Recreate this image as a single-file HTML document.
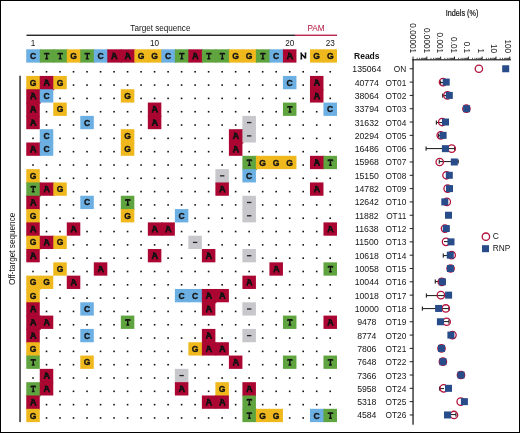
<!DOCTYPE html><html><head><meta charset="utf-8"><style>
html,body{margin:0;padding:0;background:#fff;}
body{width:520px;height:433px;overflow:hidden;position:relative;}
svg{position:absolute;left:0;top:0;display:block;will-change:transform;}
.s{font-family:"Liberation Sans",sans-serif;}
.m{font-family:"Liberation Sans",sans-serif;font-weight:bold;stroke:#111;stroke-width:0.3px;}
</style></head><body>
<svg width="520" height="433" viewBox="0 0 520 433">
<rect x="0" y="0" width="520" height="433" fill="#fff"/>
<text class="s" x="160.4" y="30.5" font-size="8.15" text-anchor="middle" fill="#141414">Target sequence</text>
<text class="s" transform="translate(316,30.6) scale(0.92,1)" font-size="8.9" text-anchor="middle" fill="#b0123c">PAM</text>
<rect x="26.5" y="34.6" width="268.5" height="1.3" fill="#141414"/>
<rect x="295" y="34.6" width="42" height="1.3" fill="#b3153f"/>
<text class="s" x="33.01" y="45.8" font-size="8.2" text-anchor="middle" fill="#141414">1</text>
<text class="s" x="154.59" y="45.8" font-size="8.2" text-anchor="middle" fill="#141414">10</text>
<text class="s" x="289.69" y="45.8" font-size="8.2" text-anchor="middle" fill="#141414">20</text>
<text class="s" x="330.22" y="45.8" font-size="8.2" text-anchor="middle" fill="#141414">23</text>
<rect x="26.25" y="49.30" width="14.51" height="13.31" fill="#6cafe2"/>
<text class="m" x="33.01" y="59.01" font-size="8.6" text-anchor="middle" fill="#111">C</text>
<rect x="39.76" y="49.30" width="14.51" height="13.31" fill="#5fa43f"/>
<path transform="translate(46.72,58.81)" d="M-2.05,-5.4H2.05M-2.05,-5.9V-4.2M2.05,-5.9V-4.2M0,-5.4V0M-1.45,-0.15H1.45" stroke="#111" stroke-width="1.5" fill="none"/>
<rect x="53.27" y="49.30" width="14.51" height="13.31" fill="#5fa43f"/>
<path transform="translate(60.23,58.81)" d="M-2.05,-5.4H2.05M-2.05,-5.9V-4.2M2.05,-5.9V-4.2M0,-5.4V0M-1.45,-0.15H1.45" stroke="#111" stroke-width="1.5" fill="none"/>
<rect x="66.78" y="49.30" width="14.51" height="13.31" fill="#efb81d"/>
<text class="m" x="73.53" y="59.01" font-size="8.6" text-anchor="middle" fill="#111">G</text>
<rect x="80.29" y="49.30" width="14.51" height="13.31" fill="#5fa43f"/>
<path transform="translate(87.24,58.81)" d="M-2.05,-5.4H2.05M-2.05,-5.9V-4.2M2.05,-5.9V-4.2M0,-5.4V0M-1.45,-0.15H1.45" stroke="#111" stroke-width="1.5" fill="none"/>
<rect x="93.80" y="49.30" width="14.51" height="13.31" fill="#6cafe2"/>
<text class="m" x="100.55" y="59.01" font-size="8.6" text-anchor="middle" fill="#111">C</text>
<rect x="107.31" y="49.30" width="14.51" height="13.31" fill="#ab0632"/>
<path transform="translate(114.27,58.81)" d="M-1.9,-5.45H0.3M-0.5,-5.45L-2.3,-0.2M0.4,-5.45L2.4,-0.2M-1.5,-2.2H1.6M-3.1,-0.15H-1.3M1.4,-0.15H3.2" stroke="#111" stroke-width="1.55" fill="none"/>
<rect x="120.82" y="49.30" width="14.51" height="13.31" fill="#ab0632"/>
<path transform="translate(127.77,58.81)" d="M-1.9,-5.45H0.3M-0.5,-5.45L-2.3,-0.2M0.4,-5.45L2.4,-0.2M-1.5,-2.2H1.6M-3.1,-0.15H-1.3M1.4,-0.15H3.2" stroke="#111" stroke-width="1.55" fill="none"/>
<rect x="134.33" y="49.30" width="14.51" height="13.31" fill="#efb81d"/>
<text class="m" x="141.08" y="59.01" font-size="8.6" text-anchor="middle" fill="#111">G</text>
<rect x="147.84" y="49.30" width="14.51" height="13.31" fill="#efb81d"/>
<text class="m" x="154.59" y="59.01" font-size="8.6" text-anchor="middle" fill="#111">G</text>
<rect x="161.35" y="49.30" width="14.51" height="13.31" fill="#6cafe2"/>
<text class="m" x="168.10" y="59.01" font-size="8.6" text-anchor="middle" fill="#111">C</text>
<rect x="174.86" y="49.30" width="14.51" height="13.31" fill="#5fa43f"/>
<path transform="translate(181.81,58.81)" d="M-2.05,-5.4H2.05M-2.05,-5.9V-4.2M2.05,-5.9V-4.2M0,-5.4V0M-1.45,-0.15H1.45" stroke="#111" stroke-width="1.5" fill="none"/>
<rect x="188.37" y="49.30" width="14.51" height="13.31" fill="#ab0632"/>
<path transform="translate(195.32,58.81)" d="M-1.9,-5.45H0.3M-0.5,-5.45L-2.3,-0.2M0.4,-5.45L2.4,-0.2M-1.5,-2.2H1.6M-3.1,-0.15H-1.3M1.4,-0.15H3.2" stroke="#111" stroke-width="1.55" fill="none"/>
<rect x="201.88" y="49.30" width="14.51" height="13.31" fill="#5fa43f"/>
<path transform="translate(208.83,58.81)" d="M-2.05,-5.4H2.05M-2.05,-5.9V-4.2M2.05,-5.9V-4.2M0,-5.4V0M-1.45,-0.15H1.45" stroke="#111" stroke-width="1.5" fill="none"/>
<rect x="215.39" y="49.30" width="14.51" height="13.31" fill="#5fa43f"/>
<path transform="translate(222.34,58.81)" d="M-2.05,-5.4H2.05M-2.05,-5.9V-4.2M2.05,-5.9V-4.2M0,-5.4V0M-1.45,-0.15H1.45" stroke="#111" stroke-width="1.5" fill="none"/>
<rect x="228.90" y="49.30" width="14.51" height="13.31" fill="#efb81d"/>
<text class="m" x="235.66" y="59.01" font-size="8.6" text-anchor="middle" fill="#111">G</text>
<rect x="242.41" y="49.30" width="14.51" height="13.31" fill="#efb81d"/>
<text class="m" x="249.16" y="59.01" font-size="8.6" text-anchor="middle" fill="#111">G</text>
<rect x="255.92" y="49.30" width="14.51" height="13.31" fill="#5fa43f"/>
<path transform="translate(262.88,58.81)" d="M-2.05,-5.4H2.05M-2.05,-5.9V-4.2M2.05,-5.9V-4.2M0,-5.4V0M-1.45,-0.15H1.45" stroke="#111" stroke-width="1.5" fill="none"/>
<rect x="269.43" y="49.30" width="14.51" height="13.31" fill="#6cafe2"/>
<text class="m" x="276.19" y="59.01" font-size="8.6" text-anchor="middle" fill="#111">C</text>
<rect x="282.94" y="49.30" width="13.51" height="13.31" fill="#ab0632"/>
<path transform="translate(289.89,58.81)" d="M-1.9,-5.45H0.3M-0.5,-5.45L-2.3,-0.2M0.4,-5.45L2.4,-0.2M-1.5,-2.2H1.6M-3.1,-0.15H-1.3M1.4,-0.15H3.2" stroke="#111" stroke-width="1.55" fill="none"/>
<path transform="translate(303.40,58.81)" d="M-2.1,-0.15V-5.45M-2.3,-5.2L2.1,-0.4M2.1,-0.2V-5.45M-3.0,-5.45H-1.4M1.3,-5.45H3.0M-3.0,-0.15H-1.2" stroke="#111" stroke-width="1.5" fill="none"/>
<rect x="309.96" y="49.30" width="14.51" height="13.31" fill="#efb81d"/>
<text class="m" x="316.71" y="59.01" font-size="8.6" text-anchor="middle" fill="#111">G</text>
<rect x="323.47" y="49.30" width="13.51" height="13.31" fill="#efb81d"/>
<text class="m" x="330.22" y="59.01" font-size="8.6" text-anchor="middle" fill="#111">G</text>
<rect x="26.25" y="75.93" width="14.51" height="14.31" fill="#efb81d"/>
<rect x="39.76" y="75.93" width="14.51" height="14.31" fill="#ab0632"/>
<rect x="53.27" y="75.93" width="13.51" height="13.31" fill="#efb81d"/>
<rect x="282.94" y="75.93" width="13.51" height="13.31" fill="#6cafe2"/>
<rect x="309.96" y="75.93" width="13.51" height="14.31" fill="#ab0632"/>
<rect x="26.25" y="89.25" width="14.51" height="14.31" fill="#ab0632"/>
<rect x="39.76" y="89.25" width="13.51" height="13.31" fill="#6cafe2"/>
<rect x="120.82" y="89.25" width="13.51" height="13.31" fill="#efb81d"/>
<rect x="309.96" y="89.25" width="13.51" height="13.31" fill="#ab0632"/>
<rect x="26.25" y="102.56" width="13.51" height="14.31" fill="#ab0632"/>
<rect x="53.27" y="102.56" width="13.51" height="13.31" fill="#efb81d"/>
<rect x="147.84" y="102.56" width="13.51" height="14.31" fill="#ab0632"/>
<rect x="282.94" y="102.56" width="13.51" height="13.31" fill="#5fa43f"/>
<rect x="323.47" y="102.56" width="13.51" height="13.31" fill="#6cafe2"/>
<rect x="26.25" y="115.88" width="13.51" height="13.31" fill="#ab0632"/>
<rect x="80.29" y="115.88" width="13.51" height="13.31" fill="#6cafe2"/>
<rect x="147.84" y="115.88" width="13.51" height="13.31" fill="#ab0632"/>
<rect x="242.41" y="115.88" width="13.51" height="14.31" fill="#c8c8cc"/>
<rect x="39.76" y="129.19" width="13.51" height="14.31" fill="#6cafe2"/>
<rect x="120.82" y="129.19" width="13.51" height="14.31" fill="#efb81d"/>
<rect x="228.90" y="129.19" width="14.51" height="14.31" fill="#ab0632"/>
<rect x="242.41" y="129.19" width="13.51" height="13.31" fill="#c8c8cc"/>
<rect x="26.25" y="142.50" width="14.51" height="13.31" fill="#ab0632"/>
<rect x="39.76" y="142.50" width="13.51" height="13.31" fill="#6cafe2"/>
<rect x="120.82" y="142.50" width="13.51" height="13.31" fill="#efb81d"/>
<rect x="228.90" y="142.50" width="13.51" height="13.31" fill="#ab0632"/>
<rect x="242.41" y="155.82" width="14.51" height="14.31" fill="#5fa43f"/>
<rect x="255.92" y="155.82" width="14.51" height="13.31" fill="#efb81d"/>
<rect x="269.43" y="155.82" width="14.51" height="13.31" fill="#efb81d"/>
<rect x="282.94" y="155.82" width="13.51" height="13.31" fill="#efb81d"/>
<rect x="309.96" y="155.82" width="14.51" height="13.31" fill="#ab0632"/>
<rect x="323.47" y="155.82" width="13.51" height="13.31" fill="#5fa43f"/>
<rect x="26.25" y="169.13" width="13.51" height="14.31" fill="#efb81d"/>
<rect x="215.39" y="169.13" width="13.51" height="14.31" fill="#c8c8cc"/>
<rect x="242.41" y="169.13" width="13.51" height="13.31" fill="#6cafe2"/>
<rect x="26.25" y="182.45" width="14.51" height="14.31" fill="#5fa43f"/>
<rect x="39.76" y="182.45" width="14.51" height="13.31" fill="#ab0632"/>
<rect x="53.27" y="182.45" width="13.51" height="13.31" fill="#efb81d"/>
<rect x="215.39" y="182.45" width="13.51" height="13.31" fill="#ab0632"/>
<rect x="309.96" y="182.45" width="13.51" height="13.31" fill="#ab0632"/>
<rect x="26.25" y="195.76" width="13.51" height="14.31" fill="#ab0632"/>
<rect x="80.29" y="195.76" width="13.51" height="13.31" fill="#6cafe2"/>
<rect x="120.82" y="195.76" width="13.51" height="14.31" fill="#5fa43f"/>
<rect x="242.41" y="195.76" width="13.51" height="14.31" fill="#c8c8cc"/>
<rect x="26.25" y="209.08" width="13.51" height="14.31" fill="#efb81d"/>
<rect x="120.82" y="209.08" width="13.51" height="13.31" fill="#efb81d"/>
<rect x="174.86" y="209.08" width="13.51" height="13.31" fill="#6cafe2"/>
<rect x="242.41" y="209.08" width="13.51" height="13.31" fill="#c8c8cc"/>
<rect x="26.25" y="222.39" width="13.51" height="14.31" fill="#ab0632"/>
<rect x="66.78" y="222.39" width="13.51" height="13.31" fill="#ab0632"/>
<rect x="147.84" y="222.39" width="14.51" height="13.31" fill="#ab0632"/>
<rect x="161.35" y="222.39" width="13.51" height="13.31" fill="#ab0632"/>
<rect x="323.47" y="222.39" width="13.51" height="13.31" fill="#ab0632"/>
<rect x="26.25" y="235.71" width="14.51" height="14.31" fill="#efb81d"/>
<rect x="39.76" y="235.71" width="14.51" height="13.31" fill="#ab0632"/>
<rect x="53.27" y="235.71" width="13.51" height="13.31" fill="#efb81d"/>
<rect x="188.37" y="235.71" width="13.51" height="13.31" fill="#c8c8cc"/>
<rect x="26.25" y="249.02" width="13.51" height="13.31" fill="#ab0632"/>
<rect x="147.84" y="249.02" width="13.51" height="13.31" fill="#ab0632"/>
<rect x="201.88" y="249.02" width="13.51" height="13.31" fill="#ab0632"/>
<rect x="242.41" y="249.02" width="13.51" height="13.31" fill="#c8c8cc"/>
<rect x="53.27" y="262.34" width="13.51" height="13.31" fill="#efb81d"/>
<rect x="93.80" y="262.34" width="13.51" height="13.31" fill="#ab0632"/>
<rect x="269.43" y="262.34" width="13.51" height="13.31" fill="#ab0632"/>
<rect x="323.47" y="262.34" width="13.51" height="13.31" fill="#5fa43f"/>
<rect x="26.25" y="275.65" width="14.51" height="14.31" fill="#efb81d"/>
<rect x="39.76" y="275.65" width="13.51" height="13.31" fill="#efb81d"/>
<rect x="66.78" y="275.65" width="13.51" height="13.31" fill="#ab0632"/>
<rect x="242.41" y="275.65" width="13.51" height="13.31" fill="#ab0632"/>
<rect x="26.25" y="288.97" width="13.51" height="14.31" fill="#efb81d"/>
<rect x="174.86" y="288.97" width="14.51" height="13.31" fill="#6cafe2"/>
<rect x="188.37" y="288.97" width="14.51" height="13.31" fill="#6cafe2"/>
<rect x="201.88" y="288.97" width="14.51" height="14.31" fill="#ab0632"/>
<rect x="215.39" y="288.97" width="13.51" height="13.31" fill="#ab0632"/>
<rect x="26.25" y="302.28" width="13.51" height="14.31" fill="#ab0632"/>
<rect x="80.29" y="302.28" width="13.51" height="13.31" fill="#6cafe2"/>
<rect x="201.88" y="302.28" width="13.51" height="13.31" fill="#ab0632"/>
<rect x="242.41" y="302.28" width="13.51" height="13.31" fill="#c8c8cc"/>
<rect x="26.25" y="315.60" width="14.51" height="14.31" fill="#ab0632"/>
<rect x="39.76" y="315.60" width="13.51" height="13.31" fill="#ab0632"/>
<rect x="120.82" y="315.60" width="13.51" height="13.31" fill="#5fa43f"/>
<rect x="282.94" y="315.60" width="13.51" height="13.31" fill="#5fa43f"/>
<rect x="323.47" y="315.60" width="13.51" height="13.31" fill="#ab0632"/>
<rect x="26.25" y="328.92" width="13.51" height="14.31" fill="#ab0632"/>
<rect x="80.29" y="328.92" width="13.51" height="13.31" fill="#6cafe2"/>
<rect x="201.88" y="328.92" width="13.51" height="14.31" fill="#ab0632"/>
<rect x="242.41" y="328.92" width="13.51" height="13.31" fill="#c8c8cc"/>
<rect x="26.25" y="342.23" width="13.51" height="14.31" fill="#efb81d"/>
<rect x="188.37" y="342.23" width="14.51" height="13.31" fill="#efb81d"/>
<rect x="201.88" y="342.23" width="14.51" height="13.31" fill="#ab0632"/>
<rect x="215.39" y="342.23" width="13.51" height="13.31" fill="#ab0632"/>
<rect x="26.25" y="355.55" width="13.51" height="13.31" fill="#5fa43f"/>
<rect x="80.29" y="355.55" width="13.51" height="13.31" fill="#efb81d"/>
<rect x="228.90" y="355.55" width="13.51" height="13.31" fill="#ab0632"/>
<rect x="282.94" y="355.55" width="13.51" height="13.31" fill="#5fa43f"/>
<rect x="323.47" y="355.55" width="13.51" height="13.31" fill="#5fa43f"/>
<rect x="39.76" y="368.86" width="13.51" height="14.31" fill="#ab0632"/>
<rect x="174.86" y="368.86" width="13.51" height="14.31" fill="#c8c8cc"/>
<rect x="26.25" y="382.18" width="14.51" height="14.31" fill="#5fa43f"/>
<rect x="39.76" y="382.18" width="13.51" height="13.31" fill="#ab0632"/>
<rect x="174.86" y="382.18" width="13.51" height="13.31" fill="#ab0632"/>
<rect x="215.39" y="382.18" width="13.51" height="14.31" fill="#efb81d"/>
<rect x="242.41" y="382.18" width="13.51" height="14.31" fill="#ab0632"/>
<rect x="26.25" y="395.49" width="13.51" height="14.31" fill="#ab0632"/>
<rect x="201.88" y="395.49" width="14.51" height="13.31" fill="#ab0632"/>
<rect x="215.39" y="395.49" width="13.51" height="13.31" fill="#ab0632"/>
<rect x="242.41" y="395.49" width="13.51" height="14.31" fill="#5fa43f"/>
<rect x="26.25" y="408.81" width="13.51" height="13.31" fill="#efb81d"/>
<rect x="242.41" y="408.81" width="14.51" height="13.31" fill="#5fa43f"/>
<rect x="255.92" y="408.81" width="14.51" height="13.31" fill="#efb81d"/>
<rect x="269.43" y="408.81" width="13.51" height="13.31" fill="#efb81d"/>
<rect x="309.96" y="408.81" width="14.51" height="13.31" fill="#6cafe2"/>
<rect x="323.47" y="408.81" width="13.51" height="13.31" fill="#5fa43f"/>
<text class="m" x="33.01" y="85.64" font-size="8.6" text-anchor="middle" fill="#111">G</text>
<path transform="translate(46.72,85.44)" d="M-1.9,-5.45H0.3M-0.5,-5.45L-2.3,-0.2M0.4,-5.45L2.4,-0.2M-1.5,-2.2H1.6M-3.1,-0.15H-1.3M1.4,-0.15H3.2" stroke="#111" stroke-width="1.55" fill="none"/>
<text class="m" x="60.02" y="85.64" font-size="8.6" text-anchor="middle" fill="#111">G</text>
<text class="m" x="289.69" y="85.64" font-size="8.6" text-anchor="middle" fill="#111">C</text>
<path transform="translate(316.91,85.44)" d="M-1.9,-5.45H0.3M-0.5,-5.45L-2.3,-0.2M0.4,-5.45L2.4,-0.2M-1.5,-2.2H1.6M-3.1,-0.15H-1.3M1.4,-0.15H3.2" stroke="#111" stroke-width="1.55" fill="none"/>
<path transform="translate(33.21,98.75)" d="M-1.9,-5.45H0.3M-0.5,-5.45L-2.3,-0.2M0.4,-5.45L2.4,-0.2M-1.5,-2.2H1.6M-3.1,-0.15H-1.3M1.4,-0.15H3.2" stroke="#111" stroke-width="1.55" fill="none"/>
<text class="m" x="46.52" y="98.95" font-size="8.6" text-anchor="middle" fill="#111">C</text>
<text class="m" x="127.57" y="98.95" font-size="8.6" text-anchor="middle" fill="#111">G</text>
<path transform="translate(316.91,98.75)" d="M-1.9,-5.45H0.3M-0.5,-5.45L-2.3,-0.2M0.4,-5.45L2.4,-0.2M-1.5,-2.2H1.6M-3.1,-0.15H-1.3M1.4,-0.15H3.2" stroke="#111" stroke-width="1.55" fill="none"/>
<path transform="translate(33.21,112.07)" d="M-1.9,-5.45H0.3M-0.5,-5.45L-2.3,-0.2M0.4,-5.45L2.4,-0.2M-1.5,-2.2H1.6M-3.1,-0.15H-1.3M1.4,-0.15H3.2" stroke="#111" stroke-width="1.55" fill="none"/>
<text class="m" x="60.02" y="112.27" font-size="8.6" text-anchor="middle" fill="#111">G</text>
<path transform="translate(154.79,112.07)" d="M-1.9,-5.45H0.3M-0.5,-5.45L-2.3,-0.2M0.4,-5.45L2.4,-0.2M-1.5,-2.2H1.6M-3.1,-0.15H-1.3M1.4,-0.15H3.2" stroke="#111" stroke-width="1.55" fill="none"/>
<path transform="translate(289.89,112.07)" d="M-2.05,-5.4H2.05M-2.05,-5.9V-4.2M2.05,-5.9V-4.2M0,-5.4V0M-1.45,-0.15H1.45" stroke="#111" stroke-width="1.5" fill="none"/>
<text class="m" x="330.22" y="112.27" font-size="8.6" text-anchor="middle" fill="#111">C</text>
<path transform="translate(33.21,125.38)" d="M-1.9,-5.45H0.3M-0.5,-5.45L-2.3,-0.2M0.4,-5.45L2.4,-0.2M-1.5,-2.2H1.6M-3.1,-0.15H-1.3M1.4,-0.15H3.2" stroke="#111" stroke-width="1.55" fill="none"/>
<text class="m" x="87.04" y="125.58" font-size="8.6" text-anchor="middle" fill="#111">C</text>
<path transform="translate(154.79,125.38)" d="M-1.9,-5.45H0.3M-0.5,-5.45L-2.3,-0.2M0.4,-5.45L2.4,-0.2M-1.5,-2.2H1.6M-3.1,-0.15H-1.3M1.4,-0.15H3.2" stroke="#111" stroke-width="1.55" fill="none"/>
<rect x="246.97" y="121.93" width="4.4" height="1.3" fill="#222"/>
<text class="m" x="46.52" y="138.90" font-size="8.6" text-anchor="middle" fill="#111">C</text>
<text class="m" x="127.57" y="138.90" font-size="8.6" text-anchor="middle" fill="#111">G</text>
<path transform="translate(235.85,138.70)" d="M-1.9,-5.45H0.3M-0.5,-5.45L-2.3,-0.2M0.4,-5.45L2.4,-0.2M-1.5,-2.2H1.6M-3.1,-0.15H-1.3M1.4,-0.15H3.2" stroke="#111" stroke-width="1.55" fill="none"/>
<rect x="246.97" y="135.25" width="4.4" height="1.3" fill="#222"/>
<path transform="translate(33.21,152.01)" d="M-1.9,-5.45H0.3M-0.5,-5.45L-2.3,-0.2M0.4,-5.45L2.4,-0.2M-1.5,-2.2H1.6M-3.1,-0.15H-1.3M1.4,-0.15H3.2" stroke="#111" stroke-width="1.55" fill="none"/>
<text class="m" x="46.52" y="152.21" font-size="8.6" text-anchor="middle" fill="#111">C</text>
<text class="m" x="127.57" y="152.21" font-size="8.6" text-anchor="middle" fill="#111">G</text>
<path transform="translate(235.85,152.01)" d="M-1.9,-5.45H0.3M-0.5,-5.45L-2.3,-0.2M0.4,-5.45L2.4,-0.2M-1.5,-2.2H1.6M-3.1,-0.15H-1.3M1.4,-0.15H3.2" stroke="#111" stroke-width="1.55" fill="none"/>
<path transform="translate(249.36,165.33)" d="M-2.05,-5.4H2.05M-2.05,-5.9V-4.2M2.05,-5.9V-4.2M0,-5.4V0M-1.45,-0.15H1.45" stroke="#111" stroke-width="1.5" fill="none"/>
<text class="m" x="262.68" y="165.53" font-size="8.6" text-anchor="middle" fill="#111">G</text>
<text class="m" x="276.19" y="165.53" font-size="8.6" text-anchor="middle" fill="#111">G</text>
<text class="m" x="289.69" y="165.53" font-size="8.6" text-anchor="middle" fill="#111">G</text>
<path transform="translate(316.91,165.33)" d="M-1.9,-5.45H0.3M-0.5,-5.45L-2.3,-0.2M0.4,-5.45L2.4,-0.2M-1.5,-2.2H1.6M-3.1,-0.15H-1.3M1.4,-0.15H3.2" stroke="#111" stroke-width="1.55" fill="none"/>
<path transform="translate(330.42,165.33)" d="M-2.05,-5.4H2.05M-2.05,-5.9V-4.2M2.05,-5.9V-4.2M0,-5.4V0M-1.45,-0.15H1.45" stroke="#111" stroke-width="1.5" fill="none"/>
<text class="m" x="33.01" y="178.84" font-size="8.6" text-anchor="middle" fill="#111">G</text>
<rect x="219.94" y="175.19" width="4.4" height="1.3" fill="#222"/>
<text class="m" x="249.16" y="178.84" font-size="8.6" text-anchor="middle" fill="#111">C</text>
<path transform="translate(33.21,191.96)" d="M-2.05,-5.4H2.05M-2.05,-5.9V-4.2M2.05,-5.9V-4.2M0,-5.4V0M-1.45,-0.15H1.45" stroke="#111" stroke-width="1.5" fill="none"/>
<path transform="translate(46.72,191.96)" d="M-1.9,-5.45H0.3M-0.5,-5.45L-2.3,-0.2M0.4,-5.45L2.4,-0.2M-1.5,-2.2H1.6M-3.1,-0.15H-1.3M1.4,-0.15H3.2" stroke="#111" stroke-width="1.55" fill="none"/>
<text class="m" x="60.02" y="192.16" font-size="8.6" text-anchor="middle" fill="#111">G</text>
<path transform="translate(222.34,191.96)" d="M-1.9,-5.45H0.3M-0.5,-5.45L-2.3,-0.2M0.4,-5.45L2.4,-0.2M-1.5,-2.2H1.6M-3.1,-0.15H-1.3M1.4,-0.15H3.2" stroke="#111" stroke-width="1.55" fill="none"/>
<path transform="translate(316.91,191.96)" d="M-1.9,-5.45H0.3M-0.5,-5.45L-2.3,-0.2M0.4,-5.45L2.4,-0.2M-1.5,-2.2H1.6M-3.1,-0.15H-1.3M1.4,-0.15H3.2" stroke="#111" stroke-width="1.55" fill="none"/>
<path transform="translate(33.21,205.27)" d="M-1.9,-5.45H0.3M-0.5,-5.45L-2.3,-0.2M0.4,-5.45L2.4,-0.2M-1.5,-2.2H1.6M-3.1,-0.15H-1.3M1.4,-0.15H3.2" stroke="#111" stroke-width="1.55" fill="none"/>
<text class="m" x="87.04" y="205.47" font-size="8.6" text-anchor="middle" fill="#111">C</text>
<path transform="translate(127.77,205.27)" d="M-2.05,-5.4H2.05M-2.05,-5.9V-4.2M2.05,-5.9V-4.2M0,-5.4V0M-1.45,-0.15H1.45" stroke="#111" stroke-width="1.5" fill="none"/>
<rect x="246.97" y="201.82" width="4.4" height="1.3" fill="#222"/>
<text class="m" x="33.01" y="218.79" font-size="8.6" text-anchor="middle" fill="#111">G</text>
<text class="m" x="127.57" y="218.79" font-size="8.6" text-anchor="middle" fill="#111">G</text>
<text class="m" x="181.61" y="218.79" font-size="8.6" text-anchor="middle" fill="#111">C</text>
<rect x="246.97" y="215.14" width="4.4" height="1.3" fill="#222"/>
<path transform="translate(33.21,231.90)" d="M-1.9,-5.45H0.3M-0.5,-5.45L-2.3,-0.2M0.4,-5.45L2.4,-0.2M-1.5,-2.2H1.6M-3.1,-0.15H-1.3M1.4,-0.15H3.2" stroke="#111" stroke-width="1.55" fill="none"/>
<path transform="translate(73.73,231.90)" d="M-1.9,-5.45H0.3M-0.5,-5.45L-2.3,-0.2M0.4,-5.45L2.4,-0.2M-1.5,-2.2H1.6M-3.1,-0.15H-1.3M1.4,-0.15H3.2" stroke="#111" stroke-width="1.55" fill="none"/>
<path transform="translate(154.79,231.90)" d="M-1.9,-5.45H0.3M-0.5,-5.45L-2.3,-0.2M0.4,-5.45L2.4,-0.2M-1.5,-2.2H1.6M-3.1,-0.15H-1.3M1.4,-0.15H3.2" stroke="#111" stroke-width="1.55" fill="none"/>
<path transform="translate(168.30,231.90)" d="M-1.9,-5.45H0.3M-0.5,-5.45L-2.3,-0.2M0.4,-5.45L2.4,-0.2M-1.5,-2.2H1.6M-3.1,-0.15H-1.3M1.4,-0.15H3.2" stroke="#111" stroke-width="1.55" fill="none"/>
<path transform="translate(330.42,231.90)" d="M-1.9,-5.45H0.3M-0.5,-5.45L-2.3,-0.2M0.4,-5.45L2.4,-0.2M-1.5,-2.2H1.6M-3.1,-0.15H-1.3M1.4,-0.15H3.2" stroke="#111" stroke-width="1.55" fill="none"/>
<text class="m" x="33.01" y="245.42" font-size="8.6" text-anchor="middle" fill="#111">G</text>
<path transform="translate(46.72,245.22)" d="M-1.9,-5.45H0.3M-0.5,-5.45L-2.3,-0.2M0.4,-5.45L2.4,-0.2M-1.5,-2.2H1.6M-3.1,-0.15H-1.3M1.4,-0.15H3.2" stroke="#111" stroke-width="1.55" fill="none"/>
<text class="m" x="60.02" y="245.42" font-size="8.6" text-anchor="middle" fill="#111">G</text>
<rect x="192.93" y="241.77" width="4.4" height="1.3" fill="#222"/>
<path transform="translate(33.21,258.53)" d="M-1.9,-5.45H0.3M-0.5,-5.45L-2.3,-0.2M0.4,-5.45L2.4,-0.2M-1.5,-2.2H1.6M-3.1,-0.15H-1.3M1.4,-0.15H3.2" stroke="#111" stroke-width="1.55" fill="none"/>
<path transform="translate(154.79,258.53)" d="M-1.9,-5.45H0.3M-0.5,-5.45L-2.3,-0.2M0.4,-5.45L2.4,-0.2M-1.5,-2.2H1.6M-3.1,-0.15H-1.3M1.4,-0.15H3.2" stroke="#111" stroke-width="1.55" fill="none"/>
<path transform="translate(208.83,258.53)" d="M-1.9,-5.45H0.3M-0.5,-5.45L-2.3,-0.2M0.4,-5.45L2.4,-0.2M-1.5,-2.2H1.6M-3.1,-0.15H-1.3M1.4,-0.15H3.2" stroke="#111" stroke-width="1.55" fill="none"/>
<rect x="246.97" y="255.08" width="4.4" height="1.3" fill="#222"/>
<text class="m" x="60.02" y="272.05" font-size="8.6" text-anchor="middle" fill="#111">G</text>
<path transform="translate(100.75,271.85)" d="M-1.9,-5.45H0.3M-0.5,-5.45L-2.3,-0.2M0.4,-5.45L2.4,-0.2M-1.5,-2.2H1.6M-3.1,-0.15H-1.3M1.4,-0.15H3.2" stroke="#111" stroke-width="1.55" fill="none"/>
<path transform="translate(276.38,271.85)" d="M-1.9,-5.45H0.3M-0.5,-5.45L-2.3,-0.2M0.4,-5.45L2.4,-0.2M-1.5,-2.2H1.6M-3.1,-0.15H-1.3M1.4,-0.15H3.2" stroke="#111" stroke-width="1.55" fill="none"/>
<path transform="translate(330.42,271.85)" d="M-2.05,-5.4H2.05M-2.05,-5.9V-4.2M2.05,-5.9V-4.2M0,-5.4V0M-1.45,-0.15H1.45" stroke="#111" stroke-width="1.5" fill="none"/>
<text class="m" x="33.01" y="285.36" font-size="8.6" text-anchor="middle" fill="#111">G</text>
<text class="m" x="46.52" y="285.36" font-size="8.6" text-anchor="middle" fill="#111">G</text>
<path transform="translate(73.73,285.16)" d="M-1.9,-5.45H0.3M-0.5,-5.45L-2.3,-0.2M0.4,-5.45L2.4,-0.2M-1.5,-2.2H1.6M-3.1,-0.15H-1.3M1.4,-0.15H3.2" stroke="#111" stroke-width="1.55" fill="none"/>
<path transform="translate(249.36,285.16)" d="M-1.9,-5.45H0.3M-0.5,-5.45L-2.3,-0.2M0.4,-5.45L2.4,-0.2M-1.5,-2.2H1.6M-3.1,-0.15H-1.3M1.4,-0.15H3.2" stroke="#111" stroke-width="1.55" fill="none"/>
<text class="m" x="33.01" y="298.68" font-size="8.6" text-anchor="middle" fill="#111">G</text>
<text class="m" x="181.61" y="298.68" font-size="8.6" text-anchor="middle" fill="#111">C</text>
<text class="m" x="195.12" y="298.68" font-size="8.6" text-anchor="middle" fill="#111">C</text>
<path transform="translate(208.83,298.48)" d="M-1.9,-5.45H0.3M-0.5,-5.45L-2.3,-0.2M0.4,-5.45L2.4,-0.2M-1.5,-2.2H1.6M-3.1,-0.15H-1.3M1.4,-0.15H3.2" stroke="#111" stroke-width="1.55" fill="none"/>
<path transform="translate(222.34,298.48)" d="M-1.9,-5.45H0.3M-0.5,-5.45L-2.3,-0.2M0.4,-5.45L2.4,-0.2M-1.5,-2.2H1.6M-3.1,-0.15H-1.3M1.4,-0.15H3.2" stroke="#111" stroke-width="1.55" fill="none"/>
<path transform="translate(33.21,311.79)" d="M-1.9,-5.45H0.3M-0.5,-5.45L-2.3,-0.2M0.4,-5.45L2.4,-0.2M-1.5,-2.2H1.6M-3.1,-0.15H-1.3M1.4,-0.15H3.2" stroke="#111" stroke-width="1.55" fill="none"/>
<text class="m" x="87.04" y="311.99" font-size="8.6" text-anchor="middle" fill="#111">C</text>
<path transform="translate(208.83,311.79)" d="M-1.9,-5.45H0.3M-0.5,-5.45L-2.3,-0.2M0.4,-5.45L2.4,-0.2M-1.5,-2.2H1.6M-3.1,-0.15H-1.3M1.4,-0.15H3.2" stroke="#111" stroke-width="1.55" fill="none"/>
<rect x="246.97" y="308.34" width="4.4" height="1.3" fill="#222"/>
<path transform="translate(33.21,325.11)" d="M-1.9,-5.45H0.3M-0.5,-5.45L-2.3,-0.2M0.4,-5.45L2.4,-0.2M-1.5,-2.2H1.6M-3.1,-0.15H-1.3M1.4,-0.15H3.2" stroke="#111" stroke-width="1.55" fill="none"/>
<path transform="translate(46.72,325.11)" d="M-1.9,-5.45H0.3M-0.5,-5.45L-2.3,-0.2M0.4,-5.45L2.4,-0.2M-1.5,-2.2H1.6M-3.1,-0.15H-1.3M1.4,-0.15H3.2" stroke="#111" stroke-width="1.55" fill="none"/>
<path transform="translate(127.77,325.11)" d="M-2.05,-5.4H2.05M-2.05,-5.9V-4.2M2.05,-5.9V-4.2M0,-5.4V0M-1.45,-0.15H1.45" stroke="#111" stroke-width="1.5" fill="none"/>
<path transform="translate(289.89,325.11)" d="M-2.05,-5.4H2.05M-2.05,-5.9V-4.2M2.05,-5.9V-4.2M0,-5.4V0M-1.45,-0.15H1.45" stroke="#111" stroke-width="1.5" fill="none"/>
<path transform="translate(330.42,325.11)" d="M-1.9,-5.45H0.3M-0.5,-5.45L-2.3,-0.2M0.4,-5.45L2.4,-0.2M-1.5,-2.2H1.6M-3.1,-0.15H-1.3M1.4,-0.15H3.2" stroke="#111" stroke-width="1.55" fill="none"/>
<path transform="translate(33.21,338.42)" d="M-1.9,-5.45H0.3M-0.5,-5.45L-2.3,-0.2M0.4,-5.45L2.4,-0.2M-1.5,-2.2H1.6M-3.1,-0.15H-1.3M1.4,-0.15H3.2" stroke="#111" stroke-width="1.55" fill="none"/>
<text class="m" x="87.04" y="338.62" font-size="8.6" text-anchor="middle" fill="#111">C</text>
<path transform="translate(208.83,338.42)" d="M-1.9,-5.45H0.3M-0.5,-5.45L-2.3,-0.2M0.4,-5.45L2.4,-0.2M-1.5,-2.2H1.6M-3.1,-0.15H-1.3M1.4,-0.15H3.2" stroke="#111" stroke-width="1.55" fill="none"/>
<rect x="246.97" y="334.97" width="4.4" height="1.3" fill="#222"/>
<text class="m" x="33.01" y="351.94" font-size="8.6" text-anchor="middle" fill="#111">G</text>
<text class="m" x="195.12" y="351.94" font-size="8.6" text-anchor="middle" fill="#111">G</text>
<path transform="translate(208.83,351.74)" d="M-1.9,-5.45H0.3M-0.5,-5.45L-2.3,-0.2M0.4,-5.45L2.4,-0.2M-1.5,-2.2H1.6M-3.1,-0.15H-1.3M1.4,-0.15H3.2" stroke="#111" stroke-width="1.55" fill="none"/>
<path transform="translate(222.34,351.74)" d="M-1.9,-5.45H0.3M-0.5,-5.45L-2.3,-0.2M0.4,-5.45L2.4,-0.2M-1.5,-2.2H1.6M-3.1,-0.15H-1.3M1.4,-0.15H3.2" stroke="#111" stroke-width="1.55" fill="none"/>
<path transform="translate(33.21,365.05)" d="M-2.05,-5.4H2.05M-2.05,-5.9V-4.2M2.05,-5.9V-4.2M0,-5.4V0M-1.45,-0.15H1.45" stroke="#111" stroke-width="1.5" fill="none"/>
<text class="m" x="87.04" y="365.25" font-size="8.6" text-anchor="middle" fill="#111">G</text>
<path transform="translate(235.85,365.05)" d="M-1.9,-5.45H0.3M-0.5,-5.45L-2.3,-0.2M0.4,-5.45L2.4,-0.2M-1.5,-2.2H1.6M-3.1,-0.15H-1.3M1.4,-0.15H3.2" stroke="#111" stroke-width="1.55" fill="none"/>
<path transform="translate(289.89,365.05)" d="M-2.05,-5.4H2.05M-2.05,-5.9V-4.2M2.05,-5.9V-4.2M0,-5.4V0M-1.45,-0.15H1.45" stroke="#111" stroke-width="1.5" fill="none"/>
<path transform="translate(330.42,365.05)" d="M-2.05,-5.4H2.05M-2.05,-5.9V-4.2M2.05,-5.9V-4.2M0,-5.4V0M-1.45,-0.15H1.45" stroke="#111" stroke-width="1.5" fill="none"/>
<path transform="translate(46.72,378.37)" d="M-1.9,-5.45H0.3M-0.5,-5.45L-2.3,-0.2M0.4,-5.45L2.4,-0.2M-1.5,-2.2H1.6M-3.1,-0.15H-1.3M1.4,-0.15H3.2" stroke="#111" stroke-width="1.55" fill="none"/>
<rect x="179.41" y="374.92" width="4.4" height="1.3" fill="#222"/>
<path transform="translate(33.21,391.68)" d="M-2.05,-5.4H2.05M-2.05,-5.9V-4.2M2.05,-5.9V-4.2M0,-5.4V0M-1.45,-0.15H1.45" stroke="#111" stroke-width="1.5" fill="none"/>
<path transform="translate(46.72,391.68)" d="M-1.9,-5.45H0.3M-0.5,-5.45L-2.3,-0.2M0.4,-5.45L2.4,-0.2M-1.5,-2.2H1.6M-3.1,-0.15H-1.3M1.4,-0.15H3.2" stroke="#111" stroke-width="1.55" fill="none"/>
<path transform="translate(181.81,391.68)" d="M-1.9,-5.45H0.3M-0.5,-5.45L-2.3,-0.2M0.4,-5.45L2.4,-0.2M-1.5,-2.2H1.6M-3.1,-0.15H-1.3M1.4,-0.15H3.2" stroke="#111" stroke-width="1.55" fill="none"/>
<text class="m" x="222.14" y="391.88" font-size="8.6" text-anchor="middle" fill="#111">G</text>
<path transform="translate(249.36,391.68)" d="M-1.9,-5.45H0.3M-0.5,-5.45L-2.3,-0.2M0.4,-5.45L2.4,-0.2M-1.5,-2.2H1.6M-3.1,-0.15H-1.3M1.4,-0.15H3.2" stroke="#111" stroke-width="1.55" fill="none"/>
<path transform="translate(33.21,405.00)" d="M-1.9,-5.45H0.3M-0.5,-5.45L-2.3,-0.2M0.4,-5.45L2.4,-0.2M-1.5,-2.2H1.6M-3.1,-0.15H-1.3M1.4,-0.15H3.2" stroke="#111" stroke-width="1.55" fill="none"/>
<path transform="translate(208.83,405.00)" d="M-1.9,-5.45H0.3M-0.5,-5.45L-2.3,-0.2M0.4,-5.45L2.4,-0.2M-1.5,-2.2H1.6M-3.1,-0.15H-1.3M1.4,-0.15H3.2" stroke="#111" stroke-width="1.55" fill="none"/>
<path transform="translate(222.34,405.00)" d="M-1.9,-5.45H0.3M-0.5,-5.45L-2.3,-0.2M0.4,-5.45L2.4,-0.2M-1.5,-2.2H1.6M-3.1,-0.15H-1.3M1.4,-0.15H3.2" stroke="#111" stroke-width="1.55" fill="none"/>
<path transform="translate(249.36,405.00)" d="M-2.05,-5.4H2.05M-2.05,-5.9V-4.2M2.05,-5.9V-4.2M0,-5.4V0M-1.45,-0.15H1.45" stroke="#111" stroke-width="1.5" fill="none"/>
<text class="m" x="33.01" y="418.51" font-size="8.6" text-anchor="middle" fill="#111">G</text>
<path transform="translate(249.36,418.31)" d="M-2.05,-5.4H2.05M-2.05,-5.9V-4.2M2.05,-5.9V-4.2M0,-5.4V0M-1.45,-0.15H1.45" stroke="#111" stroke-width="1.5" fill="none"/>
<text class="m" x="262.68" y="418.51" font-size="8.6" text-anchor="middle" fill="#111">G</text>
<text class="m" x="276.19" y="418.51" font-size="8.6" text-anchor="middle" fill="#111">G</text>
<text class="m" x="316.71" y="418.51" font-size="8.6" text-anchor="middle" fill="#111">C</text>
<path transform="translate(330.42,418.31)" d="M-2.05,-5.4H2.05M-2.05,-5.9V-4.2M2.05,-5.9V-4.2M0,-5.4V0M-1.45,-0.15H1.45" stroke="#111" stroke-width="1.5" fill="none"/>
<rect x="32.21" y="70.97" width="1.6" height="1.6" fill="#111"/>
<rect x="45.72" y="70.97" width="1.6" height="1.6" fill="#111"/>
<rect x="59.23" y="70.97" width="1.6" height="1.6" fill="#111"/>
<rect x="72.73" y="70.97" width="1.6" height="1.6" fill="#111"/>
<rect x="86.24" y="70.97" width="1.6" height="1.6" fill="#111"/>
<rect x="99.75" y="70.97" width="1.6" height="1.6" fill="#111"/>
<rect x="113.27" y="70.97" width="1.6" height="1.6" fill="#111"/>
<rect x="126.77" y="70.97" width="1.6" height="1.6" fill="#111"/>
<rect x="140.28" y="70.97" width="1.6" height="1.6" fill="#111"/>
<rect x="153.79" y="70.97" width="1.6" height="1.6" fill="#111"/>
<rect x="167.30" y="70.97" width="1.6" height="1.6" fill="#111"/>
<rect x="180.81" y="70.97" width="1.6" height="1.6" fill="#111"/>
<rect x="194.32" y="70.97" width="1.6" height="1.6" fill="#111"/>
<rect x="207.83" y="70.97" width="1.6" height="1.6" fill="#111"/>
<rect x="221.34" y="70.97" width="1.6" height="1.6" fill="#111"/>
<rect x="234.85" y="70.97" width="1.6" height="1.6" fill="#111"/>
<rect x="248.36" y="70.97" width="1.6" height="1.6" fill="#111"/>
<rect x="261.88" y="70.97" width="1.6" height="1.6" fill="#111"/>
<rect x="275.38" y="70.97" width="1.6" height="1.6" fill="#111"/>
<rect x="288.89" y="70.97" width="1.6" height="1.6" fill="#111"/>
<rect x="302.40" y="70.97" width="1.6" height="1.6" fill="#111"/>
<rect x="315.91" y="70.97" width="1.6" height="1.6" fill="#111"/>
<rect x="329.42" y="70.97" width="1.6" height="1.6" fill="#111"/>
<rect x="72.73" y="84.29" width="1.6" height="1.6" fill="#111"/>
<rect x="86.24" y="84.29" width="1.6" height="1.6" fill="#111"/>
<rect x="99.75" y="84.29" width="1.6" height="1.6" fill="#111"/>
<rect x="113.27" y="84.29" width="1.6" height="1.6" fill="#111"/>
<rect x="126.77" y="84.29" width="1.6" height="1.6" fill="#111"/>
<rect x="140.28" y="84.29" width="1.6" height="1.6" fill="#111"/>
<rect x="153.79" y="84.29" width="1.6" height="1.6" fill="#111"/>
<rect x="167.30" y="84.29" width="1.6" height="1.6" fill="#111"/>
<rect x="180.81" y="84.29" width="1.6" height="1.6" fill="#111"/>
<rect x="194.32" y="84.29" width="1.6" height="1.6" fill="#111"/>
<rect x="207.83" y="84.29" width="1.6" height="1.6" fill="#111"/>
<rect x="221.34" y="84.29" width="1.6" height="1.6" fill="#111"/>
<rect x="234.85" y="84.29" width="1.6" height="1.6" fill="#111"/>
<rect x="248.36" y="84.29" width="1.6" height="1.6" fill="#111"/>
<rect x="261.88" y="84.29" width="1.6" height="1.6" fill="#111"/>
<rect x="275.38" y="84.29" width="1.6" height="1.6" fill="#111"/>
<rect x="302.40" y="84.29" width="1.6" height="1.6" fill="#111"/>
<rect x="329.42" y="84.29" width="1.6" height="1.6" fill="#111"/>
<rect x="59.23" y="97.60" width="1.6" height="1.6" fill="#111"/>
<rect x="72.73" y="97.60" width="1.6" height="1.6" fill="#111"/>
<rect x="86.24" y="97.60" width="1.6" height="1.6" fill="#111"/>
<rect x="99.75" y="97.60" width="1.6" height="1.6" fill="#111"/>
<rect x="113.27" y="97.60" width="1.6" height="1.6" fill="#111"/>
<rect x="140.28" y="97.60" width="1.6" height="1.6" fill="#111"/>
<rect x="153.79" y="97.60" width="1.6" height="1.6" fill="#111"/>
<rect x="167.30" y="97.60" width="1.6" height="1.6" fill="#111"/>
<rect x="180.81" y="97.60" width="1.6" height="1.6" fill="#111"/>
<rect x="194.32" y="97.60" width="1.6" height="1.6" fill="#111"/>
<rect x="207.83" y="97.60" width="1.6" height="1.6" fill="#111"/>
<rect x="221.34" y="97.60" width="1.6" height="1.6" fill="#111"/>
<rect x="234.85" y="97.60" width="1.6" height="1.6" fill="#111"/>
<rect x="248.36" y="97.60" width="1.6" height="1.6" fill="#111"/>
<rect x="261.88" y="97.60" width="1.6" height="1.6" fill="#111"/>
<rect x="275.38" y="97.60" width="1.6" height="1.6" fill="#111"/>
<rect x="288.89" y="97.60" width="1.6" height="1.6" fill="#111"/>
<rect x="302.40" y="97.60" width="1.6" height="1.6" fill="#111"/>
<rect x="329.42" y="97.60" width="1.6" height="1.6" fill="#111"/>
<rect x="45.72" y="110.92" width="1.6" height="1.6" fill="#111"/>
<rect x="72.73" y="110.92" width="1.6" height="1.6" fill="#111"/>
<rect x="86.24" y="110.92" width="1.6" height="1.6" fill="#111"/>
<rect x="99.75" y="110.92" width="1.6" height="1.6" fill="#111"/>
<rect x="113.27" y="110.92" width="1.6" height="1.6" fill="#111"/>
<rect x="126.77" y="110.92" width="1.6" height="1.6" fill="#111"/>
<rect x="140.28" y="110.92" width="1.6" height="1.6" fill="#111"/>
<rect x="167.30" y="110.92" width="1.6" height="1.6" fill="#111"/>
<rect x="180.81" y="110.92" width="1.6" height="1.6" fill="#111"/>
<rect x="194.32" y="110.92" width="1.6" height="1.6" fill="#111"/>
<rect x="207.83" y="110.92" width="1.6" height="1.6" fill="#111"/>
<rect x="221.34" y="110.92" width="1.6" height="1.6" fill="#111"/>
<rect x="234.85" y="110.92" width="1.6" height="1.6" fill="#111"/>
<rect x="248.36" y="110.92" width="1.6" height="1.6" fill="#111"/>
<rect x="261.88" y="110.92" width="1.6" height="1.6" fill="#111"/>
<rect x="275.38" y="110.92" width="1.6" height="1.6" fill="#111"/>
<rect x="302.40" y="110.92" width="1.6" height="1.6" fill="#111"/>
<rect x="315.91" y="110.92" width="1.6" height="1.6" fill="#111"/>
<rect x="45.72" y="124.23" width="1.6" height="1.6" fill="#111"/>
<rect x="59.23" y="124.23" width="1.6" height="1.6" fill="#111"/>
<rect x="72.73" y="124.23" width="1.6" height="1.6" fill="#111"/>
<rect x="99.75" y="124.23" width="1.6" height="1.6" fill="#111"/>
<rect x="113.27" y="124.23" width="1.6" height="1.6" fill="#111"/>
<rect x="126.77" y="124.23" width="1.6" height="1.6" fill="#111"/>
<rect x="140.28" y="124.23" width="1.6" height="1.6" fill="#111"/>
<rect x="167.30" y="124.23" width="1.6" height="1.6" fill="#111"/>
<rect x="180.81" y="124.23" width="1.6" height="1.6" fill="#111"/>
<rect x="194.32" y="124.23" width="1.6" height="1.6" fill="#111"/>
<rect x="207.83" y="124.23" width="1.6" height="1.6" fill="#111"/>
<rect x="221.34" y="124.23" width="1.6" height="1.6" fill="#111"/>
<rect x="234.85" y="124.23" width="1.6" height="1.6" fill="#111"/>
<rect x="261.88" y="124.23" width="1.6" height="1.6" fill="#111"/>
<rect x="275.38" y="124.23" width="1.6" height="1.6" fill="#111"/>
<rect x="288.89" y="124.23" width="1.6" height="1.6" fill="#111"/>
<rect x="302.40" y="124.23" width="1.6" height="1.6" fill="#111"/>
<rect x="315.91" y="124.23" width="1.6" height="1.6" fill="#111"/>
<rect x="329.42" y="124.23" width="1.6" height="1.6" fill="#111"/>
<rect x="32.21" y="137.55" width="1.6" height="1.6" fill="#111"/>
<rect x="59.23" y="137.55" width="1.6" height="1.6" fill="#111"/>
<rect x="72.73" y="137.55" width="1.6" height="1.6" fill="#111"/>
<rect x="86.24" y="137.55" width="1.6" height="1.6" fill="#111"/>
<rect x="99.75" y="137.55" width="1.6" height="1.6" fill="#111"/>
<rect x="113.27" y="137.55" width="1.6" height="1.6" fill="#111"/>
<rect x="140.28" y="137.55" width="1.6" height="1.6" fill="#111"/>
<rect x="153.79" y="137.55" width="1.6" height="1.6" fill="#111"/>
<rect x="167.30" y="137.55" width="1.6" height="1.6" fill="#111"/>
<rect x="180.81" y="137.55" width="1.6" height="1.6" fill="#111"/>
<rect x="194.32" y="137.55" width="1.6" height="1.6" fill="#111"/>
<rect x="207.83" y="137.55" width="1.6" height="1.6" fill="#111"/>
<rect x="221.34" y="137.55" width="1.6" height="1.6" fill="#111"/>
<rect x="261.88" y="137.55" width="1.6" height="1.6" fill="#111"/>
<rect x="275.38" y="137.55" width="1.6" height="1.6" fill="#111"/>
<rect x="288.89" y="137.55" width="1.6" height="1.6" fill="#111"/>
<rect x="302.40" y="137.55" width="1.6" height="1.6" fill="#111"/>
<rect x="315.91" y="137.55" width="1.6" height="1.6" fill="#111"/>
<rect x="329.42" y="137.55" width="1.6" height="1.6" fill="#111"/>
<rect x="59.23" y="150.86" width="1.6" height="1.6" fill="#111"/>
<rect x="72.73" y="150.86" width="1.6" height="1.6" fill="#111"/>
<rect x="86.24" y="150.86" width="1.6" height="1.6" fill="#111"/>
<rect x="99.75" y="150.86" width="1.6" height="1.6" fill="#111"/>
<rect x="113.27" y="150.86" width="1.6" height="1.6" fill="#111"/>
<rect x="140.28" y="150.86" width="1.6" height="1.6" fill="#111"/>
<rect x="153.79" y="150.86" width="1.6" height="1.6" fill="#111"/>
<rect x="167.30" y="150.86" width="1.6" height="1.6" fill="#111"/>
<rect x="180.81" y="150.86" width="1.6" height="1.6" fill="#111"/>
<rect x="194.32" y="150.86" width="1.6" height="1.6" fill="#111"/>
<rect x="207.83" y="150.86" width="1.6" height="1.6" fill="#111"/>
<rect x="221.34" y="150.86" width="1.6" height="1.6" fill="#111"/>
<rect x="248.36" y="150.86" width="1.6" height="1.6" fill="#111"/>
<rect x="261.88" y="150.86" width="1.6" height="1.6" fill="#111"/>
<rect x="275.38" y="150.86" width="1.6" height="1.6" fill="#111"/>
<rect x="288.89" y="150.86" width="1.6" height="1.6" fill="#111"/>
<rect x="302.40" y="150.86" width="1.6" height="1.6" fill="#111"/>
<rect x="315.91" y="150.86" width="1.6" height="1.6" fill="#111"/>
<rect x="329.42" y="150.86" width="1.6" height="1.6" fill="#111"/>
<rect x="32.21" y="164.18" width="1.6" height="1.6" fill="#111"/>
<rect x="45.72" y="164.18" width="1.6" height="1.6" fill="#111"/>
<rect x="59.23" y="164.18" width="1.6" height="1.6" fill="#111"/>
<rect x="72.73" y="164.18" width="1.6" height="1.6" fill="#111"/>
<rect x="86.24" y="164.18" width="1.6" height="1.6" fill="#111"/>
<rect x="99.75" y="164.18" width="1.6" height="1.6" fill="#111"/>
<rect x="113.27" y="164.18" width="1.6" height="1.6" fill="#111"/>
<rect x="126.77" y="164.18" width="1.6" height="1.6" fill="#111"/>
<rect x="140.28" y="164.18" width="1.6" height="1.6" fill="#111"/>
<rect x="153.79" y="164.18" width="1.6" height="1.6" fill="#111"/>
<rect x="167.30" y="164.18" width="1.6" height="1.6" fill="#111"/>
<rect x="180.81" y="164.18" width="1.6" height="1.6" fill="#111"/>
<rect x="194.32" y="164.18" width="1.6" height="1.6" fill="#111"/>
<rect x="207.83" y="164.18" width="1.6" height="1.6" fill="#111"/>
<rect x="221.34" y="164.18" width="1.6" height="1.6" fill="#111"/>
<rect x="234.85" y="164.18" width="1.6" height="1.6" fill="#111"/>
<rect x="302.40" y="164.18" width="1.6" height="1.6" fill="#111"/>
<rect x="45.72" y="177.49" width="1.6" height="1.6" fill="#111"/>
<rect x="59.23" y="177.49" width="1.6" height="1.6" fill="#111"/>
<rect x="72.73" y="177.49" width="1.6" height="1.6" fill="#111"/>
<rect x="86.24" y="177.49" width="1.6" height="1.6" fill="#111"/>
<rect x="99.75" y="177.49" width="1.6" height="1.6" fill="#111"/>
<rect x="113.27" y="177.49" width="1.6" height="1.6" fill="#111"/>
<rect x="126.77" y="177.49" width="1.6" height="1.6" fill="#111"/>
<rect x="140.28" y="177.49" width="1.6" height="1.6" fill="#111"/>
<rect x="153.79" y="177.49" width="1.6" height="1.6" fill="#111"/>
<rect x="167.30" y="177.49" width="1.6" height="1.6" fill="#111"/>
<rect x="180.81" y="177.49" width="1.6" height="1.6" fill="#111"/>
<rect x="194.32" y="177.49" width="1.6" height="1.6" fill="#111"/>
<rect x="207.83" y="177.49" width="1.6" height="1.6" fill="#111"/>
<rect x="234.85" y="177.49" width="1.6" height="1.6" fill="#111"/>
<rect x="261.88" y="177.49" width="1.6" height="1.6" fill="#111"/>
<rect x="275.38" y="177.49" width="1.6" height="1.6" fill="#111"/>
<rect x="288.89" y="177.49" width="1.6" height="1.6" fill="#111"/>
<rect x="302.40" y="177.49" width="1.6" height="1.6" fill="#111"/>
<rect x="315.91" y="177.49" width="1.6" height="1.6" fill="#111"/>
<rect x="329.42" y="177.49" width="1.6" height="1.6" fill="#111"/>
<rect x="72.73" y="190.81" width="1.6" height="1.6" fill="#111"/>
<rect x="86.24" y="190.81" width="1.6" height="1.6" fill="#111"/>
<rect x="99.75" y="190.81" width="1.6" height="1.6" fill="#111"/>
<rect x="113.27" y="190.81" width="1.6" height="1.6" fill="#111"/>
<rect x="126.77" y="190.81" width="1.6" height="1.6" fill="#111"/>
<rect x="140.28" y="190.81" width="1.6" height="1.6" fill="#111"/>
<rect x="153.79" y="190.81" width="1.6" height="1.6" fill="#111"/>
<rect x="167.30" y="190.81" width="1.6" height="1.6" fill="#111"/>
<rect x="180.81" y="190.81" width="1.6" height="1.6" fill="#111"/>
<rect x="194.32" y="190.81" width="1.6" height="1.6" fill="#111"/>
<rect x="207.83" y="190.81" width="1.6" height="1.6" fill="#111"/>
<rect x="234.85" y="190.81" width="1.6" height="1.6" fill="#111"/>
<rect x="248.36" y="190.81" width="1.6" height="1.6" fill="#111"/>
<rect x="261.88" y="190.81" width="1.6" height="1.6" fill="#111"/>
<rect x="275.38" y="190.81" width="1.6" height="1.6" fill="#111"/>
<rect x="288.89" y="190.81" width="1.6" height="1.6" fill="#111"/>
<rect x="302.40" y="190.81" width="1.6" height="1.6" fill="#111"/>
<rect x="329.42" y="190.81" width="1.6" height="1.6" fill="#111"/>
<rect x="45.72" y="204.12" width="1.6" height="1.6" fill="#111"/>
<rect x="59.23" y="204.12" width="1.6" height="1.6" fill="#111"/>
<rect x="72.73" y="204.12" width="1.6" height="1.6" fill="#111"/>
<rect x="99.75" y="204.12" width="1.6" height="1.6" fill="#111"/>
<rect x="113.27" y="204.12" width="1.6" height="1.6" fill="#111"/>
<rect x="140.28" y="204.12" width="1.6" height="1.6" fill="#111"/>
<rect x="153.79" y="204.12" width="1.6" height="1.6" fill="#111"/>
<rect x="167.30" y="204.12" width="1.6" height="1.6" fill="#111"/>
<rect x="180.81" y="204.12" width="1.6" height="1.6" fill="#111"/>
<rect x="194.32" y="204.12" width="1.6" height="1.6" fill="#111"/>
<rect x="207.83" y="204.12" width="1.6" height="1.6" fill="#111"/>
<rect x="221.34" y="204.12" width="1.6" height="1.6" fill="#111"/>
<rect x="234.85" y="204.12" width="1.6" height="1.6" fill="#111"/>
<rect x="261.88" y="204.12" width="1.6" height="1.6" fill="#111"/>
<rect x="275.38" y="204.12" width="1.6" height="1.6" fill="#111"/>
<rect x="288.89" y="204.12" width="1.6" height="1.6" fill="#111"/>
<rect x="302.40" y="204.12" width="1.6" height="1.6" fill="#111"/>
<rect x="315.91" y="204.12" width="1.6" height="1.6" fill="#111"/>
<rect x="329.42" y="204.12" width="1.6" height="1.6" fill="#111"/>
<rect x="45.72" y="217.44" width="1.6" height="1.6" fill="#111"/>
<rect x="59.23" y="217.44" width="1.6" height="1.6" fill="#111"/>
<rect x="72.73" y="217.44" width="1.6" height="1.6" fill="#111"/>
<rect x="86.24" y="217.44" width="1.6" height="1.6" fill="#111"/>
<rect x="99.75" y="217.44" width="1.6" height="1.6" fill="#111"/>
<rect x="113.27" y="217.44" width="1.6" height="1.6" fill="#111"/>
<rect x="140.28" y="217.44" width="1.6" height="1.6" fill="#111"/>
<rect x="153.79" y="217.44" width="1.6" height="1.6" fill="#111"/>
<rect x="167.30" y="217.44" width="1.6" height="1.6" fill="#111"/>
<rect x="194.32" y="217.44" width="1.6" height="1.6" fill="#111"/>
<rect x="207.83" y="217.44" width="1.6" height="1.6" fill="#111"/>
<rect x="221.34" y="217.44" width="1.6" height="1.6" fill="#111"/>
<rect x="234.85" y="217.44" width="1.6" height="1.6" fill="#111"/>
<rect x="261.88" y="217.44" width="1.6" height="1.6" fill="#111"/>
<rect x="275.38" y="217.44" width="1.6" height="1.6" fill="#111"/>
<rect x="288.89" y="217.44" width="1.6" height="1.6" fill="#111"/>
<rect x="302.40" y="217.44" width="1.6" height="1.6" fill="#111"/>
<rect x="315.91" y="217.44" width="1.6" height="1.6" fill="#111"/>
<rect x="329.42" y="217.44" width="1.6" height="1.6" fill="#111"/>
<rect x="45.72" y="230.75" width="1.6" height="1.6" fill="#111"/>
<rect x="59.23" y="230.75" width="1.6" height="1.6" fill="#111"/>
<rect x="86.24" y="230.75" width="1.6" height="1.6" fill="#111"/>
<rect x="99.75" y="230.75" width="1.6" height="1.6" fill="#111"/>
<rect x="113.27" y="230.75" width="1.6" height="1.6" fill="#111"/>
<rect x="126.77" y="230.75" width="1.6" height="1.6" fill="#111"/>
<rect x="140.28" y="230.75" width="1.6" height="1.6" fill="#111"/>
<rect x="180.81" y="230.75" width="1.6" height="1.6" fill="#111"/>
<rect x="194.32" y="230.75" width="1.6" height="1.6" fill="#111"/>
<rect x="207.83" y="230.75" width="1.6" height="1.6" fill="#111"/>
<rect x="221.34" y="230.75" width="1.6" height="1.6" fill="#111"/>
<rect x="234.85" y="230.75" width="1.6" height="1.6" fill="#111"/>
<rect x="248.36" y="230.75" width="1.6" height="1.6" fill="#111"/>
<rect x="261.88" y="230.75" width="1.6" height="1.6" fill="#111"/>
<rect x="275.38" y="230.75" width="1.6" height="1.6" fill="#111"/>
<rect x="288.89" y="230.75" width="1.6" height="1.6" fill="#111"/>
<rect x="302.40" y="230.75" width="1.6" height="1.6" fill="#111"/>
<rect x="315.91" y="230.75" width="1.6" height="1.6" fill="#111"/>
<rect x="72.73" y="244.07" width="1.6" height="1.6" fill="#111"/>
<rect x="86.24" y="244.07" width="1.6" height="1.6" fill="#111"/>
<rect x="99.75" y="244.07" width="1.6" height="1.6" fill="#111"/>
<rect x="113.27" y="244.07" width="1.6" height="1.6" fill="#111"/>
<rect x="126.77" y="244.07" width="1.6" height="1.6" fill="#111"/>
<rect x="140.28" y="244.07" width="1.6" height="1.6" fill="#111"/>
<rect x="153.79" y="244.07" width="1.6" height="1.6" fill="#111"/>
<rect x="167.30" y="244.07" width="1.6" height="1.6" fill="#111"/>
<rect x="180.81" y="244.07" width="1.6" height="1.6" fill="#111"/>
<rect x="207.83" y="244.07" width="1.6" height="1.6" fill="#111"/>
<rect x="221.34" y="244.07" width="1.6" height="1.6" fill="#111"/>
<rect x="234.85" y="244.07" width="1.6" height="1.6" fill="#111"/>
<rect x="248.36" y="244.07" width="1.6" height="1.6" fill="#111"/>
<rect x="261.88" y="244.07" width="1.6" height="1.6" fill="#111"/>
<rect x="275.38" y="244.07" width="1.6" height="1.6" fill="#111"/>
<rect x="288.89" y="244.07" width="1.6" height="1.6" fill="#111"/>
<rect x="302.40" y="244.07" width="1.6" height="1.6" fill="#111"/>
<rect x="315.91" y="244.07" width="1.6" height="1.6" fill="#111"/>
<rect x="329.42" y="244.07" width="1.6" height="1.6" fill="#111"/>
<rect x="45.72" y="257.38" width="1.6" height="1.6" fill="#111"/>
<rect x="59.23" y="257.38" width="1.6" height="1.6" fill="#111"/>
<rect x="72.73" y="257.38" width="1.6" height="1.6" fill="#111"/>
<rect x="86.24" y="257.38" width="1.6" height="1.6" fill="#111"/>
<rect x="99.75" y="257.38" width="1.6" height="1.6" fill="#111"/>
<rect x="113.27" y="257.38" width="1.6" height="1.6" fill="#111"/>
<rect x="126.77" y="257.38" width="1.6" height="1.6" fill="#111"/>
<rect x="140.28" y="257.38" width="1.6" height="1.6" fill="#111"/>
<rect x="167.30" y="257.38" width="1.6" height="1.6" fill="#111"/>
<rect x="180.81" y="257.38" width="1.6" height="1.6" fill="#111"/>
<rect x="194.32" y="257.38" width="1.6" height="1.6" fill="#111"/>
<rect x="221.34" y="257.38" width="1.6" height="1.6" fill="#111"/>
<rect x="234.85" y="257.38" width="1.6" height="1.6" fill="#111"/>
<rect x="261.88" y="257.38" width="1.6" height="1.6" fill="#111"/>
<rect x="275.38" y="257.38" width="1.6" height="1.6" fill="#111"/>
<rect x="288.89" y="257.38" width="1.6" height="1.6" fill="#111"/>
<rect x="302.40" y="257.38" width="1.6" height="1.6" fill="#111"/>
<rect x="315.91" y="257.38" width="1.6" height="1.6" fill="#111"/>
<rect x="329.42" y="257.38" width="1.6" height="1.6" fill="#111"/>
<rect x="32.21" y="270.70" width="1.6" height="1.6" fill="#111"/>
<rect x="45.72" y="270.70" width="1.6" height="1.6" fill="#111"/>
<rect x="72.73" y="270.70" width="1.6" height="1.6" fill="#111"/>
<rect x="86.24" y="270.70" width="1.6" height="1.6" fill="#111"/>
<rect x="113.27" y="270.70" width="1.6" height="1.6" fill="#111"/>
<rect x="126.77" y="270.70" width="1.6" height="1.6" fill="#111"/>
<rect x="140.28" y="270.70" width="1.6" height="1.6" fill="#111"/>
<rect x="153.79" y="270.70" width="1.6" height="1.6" fill="#111"/>
<rect x="167.30" y="270.70" width="1.6" height="1.6" fill="#111"/>
<rect x="180.81" y="270.70" width="1.6" height="1.6" fill="#111"/>
<rect x="194.32" y="270.70" width="1.6" height="1.6" fill="#111"/>
<rect x="207.83" y="270.70" width="1.6" height="1.6" fill="#111"/>
<rect x="221.34" y="270.70" width="1.6" height="1.6" fill="#111"/>
<rect x="234.85" y="270.70" width="1.6" height="1.6" fill="#111"/>
<rect x="248.36" y="270.70" width="1.6" height="1.6" fill="#111"/>
<rect x="261.88" y="270.70" width="1.6" height="1.6" fill="#111"/>
<rect x="288.89" y="270.70" width="1.6" height="1.6" fill="#111"/>
<rect x="302.40" y="270.70" width="1.6" height="1.6" fill="#111"/>
<rect x="315.91" y="270.70" width="1.6" height="1.6" fill="#111"/>
<rect x="59.23" y="284.01" width="1.6" height="1.6" fill="#111"/>
<rect x="86.24" y="284.01" width="1.6" height="1.6" fill="#111"/>
<rect x="99.75" y="284.01" width="1.6" height="1.6" fill="#111"/>
<rect x="113.27" y="284.01" width="1.6" height="1.6" fill="#111"/>
<rect x="126.77" y="284.01" width="1.6" height="1.6" fill="#111"/>
<rect x="140.28" y="284.01" width="1.6" height="1.6" fill="#111"/>
<rect x="153.79" y="284.01" width="1.6" height="1.6" fill="#111"/>
<rect x="167.30" y="284.01" width="1.6" height="1.6" fill="#111"/>
<rect x="180.81" y="284.01" width="1.6" height="1.6" fill="#111"/>
<rect x="194.32" y="284.01" width="1.6" height="1.6" fill="#111"/>
<rect x="207.83" y="284.01" width="1.6" height="1.6" fill="#111"/>
<rect x="221.34" y="284.01" width="1.6" height="1.6" fill="#111"/>
<rect x="234.85" y="284.01" width="1.6" height="1.6" fill="#111"/>
<rect x="261.88" y="284.01" width="1.6" height="1.6" fill="#111"/>
<rect x="275.38" y="284.01" width="1.6" height="1.6" fill="#111"/>
<rect x="288.89" y="284.01" width="1.6" height="1.6" fill="#111"/>
<rect x="302.40" y="284.01" width="1.6" height="1.6" fill="#111"/>
<rect x="315.91" y="284.01" width="1.6" height="1.6" fill="#111"/>
<rect x="329.42" y="284.01" width="1.6" height="1.6" fill="#111"/>
<rect x="45.72" y="297.33" width="1.6" height="1.6" fill="#111"/>
<rect x="59.23" y="297.33" width="1.6" height="1.6" fill="#111"/>
<rect x="72.73" y="297.33" width="1.6" height="1.6" fill="#111"/>
<rect x="86.24" y="297.33" width="1.6" height="1.6" fill="#111"/>
<rect x="99.75" y="297.33" width="1.6" height="1.6" fill="#111"/>
<rect x="113.27" y="297.33" width="1.6" height="1.6" fill="#111"/>
<rect x="126.77" y="297.33" width="1.6" height="1.6" fill="#111"/>
<rect x="140.28" y="297.33" width="1.6" height="1.6" fill="#111"/>
<rect x="153.79" y="297.33" width="1.6" height="1.6" fill="#111"/>
<rect x="167.30" y="297.33" width="1.6" height="1.6" fill="#111"/>
<rect x="234.85" y="297.33" width="1.6" height="1.6" fill="#111"/>
<rect x="248.36" y="297.33" width="1.6" height="1.6" fill="#111"/>
<rect x="261.88" y="297.33" width="1.6" height="1.6" fill="#111"/>
<rect x="275.38" y="297.33" width="1.6" height="1.6" fill="#111"/>
<rect x="288.89" y="297.33" width="1.6" height="1.6" fill="#111"/>
<rect x="302.40" y="297.33" width="1.6" height="1.6" fill="#111"/>
<rect x="315.91" y="297.33" width="1.6" height="1.6" fill="#111"/>
<rect x="329.42" y="297.33" width="1.6" height="1.6" fill="#111"/>
<rect x="45.72" y="310.64" width="1.6" height="1.6" fill="#111"/>
<rect x="59.23" y="310.64" width="1.6" height="1.6" fill="#111"/>
<rect x="72.73" y="310.64" width="1.6" height="1.6" fill="#111"/>
<rect x="99.75" y="310.64" width="1.6" height="1.6" fill="#111"/>
<rect x="113.27" y="310.64" width="1.6" height="1.6" fill="#111"/>
<rect x="126.77" y="310.64" width="1.6" height="1.6" fill="#111"/>
<rect x="140.28" y="310.64" width="1.6" height="1.6" fill="#111"/>
<rect x="153.79" y="310.64" width="1.6" height="1.6" fill="#111"/>
<rect x="167.30" y="310.64" width="1.6" height="1.6" fill="#111"/>
<rect x="180.81" y="310.64" width="1.6" height="1.6" fill="#111"/>
<rect x="194.32" y="310.64" width="1.6" height="1.6" fill="#111"/>
<rect x="221.34" y="310.64" width="1.6" height="1.6" fill="#111"/>
<rect x="234.85" y="310.64" width="1.6" height="1.6" fill="#111"/>
<rect x="261.88" y="310.64" width="1.6" height="1.6" fill="#111"/>
<rect x="275.38" y="310.64" width="1.6" height="1.6" fill="#111"/>
<rect x="288.89" y="310.64" width="1.6" height="1.6" fill="#111"/>
<rect x="302.40" y="310.64" width="1.6" height="1.6" fill="#111"/>
<rect x="315.91" y="310.64" width="1.6" height="1.6" fill="#111"/>
<rect x="329.42" y="310.64" width="1.6" height="1.6" fill="#111"/>
<rect x="59.23" y="323.96" width="1.6" height="1.6" fill="#111"/>
<rect x="72.73" y="323.96" width="1.6" height="1.6" fill="#111"/>
<rect x="86.24" y="323.96" width="1.6" height="1.6" fill="#111"/>
<rect x="99.75" y="323.96" width="1.6" height="1.6" fill="#111"/>
<rect x="113.27" y="323.96" width="1.6" height="1.6" fill="#111"/>
<rect x="140.28" y="323.96" width="1.6" height="1.6" fill="#111"/>
<rect x="153.79" y="323.96" width="1.6" height="1.6" fill="#111"/>
<rect x="167.30" y="323.96" width="1.6" height="1.6" fill="#111"/>
<rect x="180.81" y="323.96" width="1.6" height="1.6" fill="#111"/>
<rect x="194.32" y="323.96" width="1.6" height="1.6" fill="#111"/>
<rect x="207.83" y="323.96" width="1.6" height="1.6" fill="#111"/>
<rect x="221.34" y="323.96" width="1.6" height="1.6" fill="#111"/>
<rect x="234.85" y="323.96" width="1.6" height="1.6" fill="#111"/>
<rect x="248.36" y="323.96" width="1.6" height="1.6" fill="#111"/>
<rect x="261.88" y="323.96" width="1.6" height="1.6" fill="#111"/>
<rect x="275.38" y="323.96" width="1.6" height="1.6" fill="#111"/>
<rect x="302.40" y="323.96" width="1.6" height="1.6" fill="#111"/>
<rect x="315.91" y="323.96" width="1.6" height="1.6" fill="#111"/>
<rect x="45.72" y="337.27" width="1.6" height="1.6" fill="#111"/>
<rect x="59.23" y="337.27" width="1.6" height="1.6" fill="#111"/>
<rect x="72.73" y="337.27" width="1.6" height="1.6" fill="#111"/>
<rect x="99.75" y="337.27" width="1.6" height="1.6" fill="#111"/>
<rect x="113.27" y="337.27" width="1.6" height="1.6" fill="#111"/>
<rect x="126.77" y="337.27" width="1.6" height="1.6" fill="#111"/>
<rect x="140.28" y="337.27" width="1.6" height="1.6" fill="#111"/>
<rect x="153.79" y="337.27" width="1.6" height="1.6" fill="#111"/>
<rect x="167.30" y="337.27" width="1.6" height="1.6" fill="#111"/>
<rect x="180.81" y="337.27" width="1.6" height="1.6" fill="#111"/>
<rect x="194.32" y="337.27" width="1.6" height="1.6" fill="#111"/>
<rect x="221.34" y="337.27" width="1.6" height="1.6" fill="#111"/>
<rect x="234.85" y="337.27" width="1.6" height="1.6" fill="#111"/>
<rect x="261.88" y="337.27" width="1.6" height="1.6" fill="#111"/>
<rect x="275.38" y="337.27" width="1.6" height="1.6" fill="#111"/>
<rect x="288.89" y="337.27" width="1.6" height="1.6" fill="#111"/>
<rect x="302.40" y="337.27" width="1.6" height="1.6" fill="#111"/>
<rect x="315.91" y="337.27" width="1.6" height="1.6" fill="#111"/>
<rect x="329.42" y="337.27" width="1.6" height="1.6" fill="#111"/>
<rect x="45.72" y="350.59" width="1.6" height="1.6" fill="#111"/>
<rect x="59.23" y="350.59" width="1.6" height="1.6" fill="#111"/>
<rect x="72.73" y="350.59" width="1.6" height="1.6" fill="#111"/>
<rect x="86.24" y="350.59" width="1.6" height="1.6" fill="#111"/>
<rect x="99.75" y="350.59" width="1.6" height="1.6" fill="#111"/>
<rect x="113.27" y="350.59" width="1.6" height="1.6" fill="#111"/>
<rect x="126.77" y="350.59" width="1.6" height="1.6" fill="#111"/>
<rect x="140.28" y="350.59" width="1.6" height="1.6" fill="#111"/>
<rect x="153.79" y="350.59" width="1.6" height="1.6" fill="#111"/>
<rect x="167.30" y="350.59" width="1.6" height="1.6" fill="#111"/>
<rect x="180.81" y="350.59" width="1.6" height="1.6" fill="#111"/>
<rect x="234.85" y="350.59" width="1.6" height="1.6" fill="#111"/>
<rect x="248.36" y="350.59" width="1.6" height="1.6" fill="#111"/>
<rect x="261.88" y="350.59" width="1.6" height="1.6" fill="#111"/>
<rect x="275.38" y="350.59" width="1.6" height="1.6" fill="#111"/>
<rect x="288.89" y="350.59" width="1.6" height="1.6" fill="#111"/>
<rect x="302.40" y="350.59" width="1.6" height="1.6" fill="#111"/>
<rect x="315.91" y="350.59" width="1.6" height="1.6" fill="#111"/>
<rect x="329.42" y="350.59" width="1.6" height="1.6" fill="#111"/>
<rect x="45.72" y="363.90" width="1.6" height="1.6" fill="#111"/>
<rect x="59.23" y="363.90" width="1.6" height="1.6" fill="#111"/>
<rect x="72.73" y="363.90" width="1.6" height="1.6" fill="#111"/>
<rect x="99.75" y="363.90" width="1.6" height="1.6" fill="#111"/>
<rect x="113.27" y="363.90" width="1.6" height="1.6" fill="#111"/>
<rect x="126.77" y="363.90" width="1.6" height="1.6" fill="#111"/>
<rect x="140.28" y="363.90" width="1.6" height="1.6" fill="#111"/>
<rect x="153.79" y="363.90" width="1.6" height="1.6" fill="#111"/>
<rect x="167.30" y="363.90" width="1.6" height="1.6" fill="#111"/>
<rect x="180.81" y="363.90" width="1.6" height="1.6" fill="#111"/>
<rect x="194.32" y="363.90" width="1.6" height="1.6" fill="#111"/>
<rect x="207.83" y="363.90" width="1.6" height="1.6" fill="#111"/>
<rect x="221.34" y="363.90" width="1.6" height="1.6" fill="#111"/>
<rect x="248.36" y="363.90" width="1.6" height="1.6" fill="#111"/>
<rect x="261.88" y="363.90" width="1.6" height="1.6" fill="#111"/>
<rect x="275.38" y="363.90" width="1.6" height="1.6" fill="#111"/>
<rect x="302.40" y="363.90" width="1.6" height="1.6" fill="#111"/>
<rect x="315.91" y="363.90" width="1.6" height="1.6" fill="#111"/>
<rect x="32.21" y="377.22" width="1.6" height="1.6" fill="#111"/>
<rect x="59.23" y="377.22" width="1.6" height="1.6" fill="#111"/>
<rect x="72.73" y="377.22" width="1.6" height="1.6" fill="#111"/>
<rect x="86.24" y="377.22" width="1.6" height="1.6" fill="#111"/>
<rect x="99.75" y="377.22" width="1.6" height="1.6" fill="#111"/>
<rect x="113.27" y="377.22" width="1.6" height="1.6" fill="#111"/>
<rect x="126.77" y="377.22" width="1.6" height="1.6" fill="#111"/>
<rect x="140.28" y="377.22" width="1.6" height="1.6" fill="#111"/>
<rect x="153.79" y="377.22" width="1.6" height="1.6" fill="#111"/>
<rect x="167.30" y="377.22" width="1.6" height="1.6" fill="#111"/>
<rect x="194.32" y="377.22" width="1.6" height="1.6" fill="#111"/>
<rect x="207.83" y="377.22" width="1.6" height="1.6" fill="#111"/>
<rect x="221.34" y="377.22" width="1.6" height="1.6" fill="#111"/>
<rect x="234.85" y="377.22" width="1.6" height="1.6" fill="#111"/>
<rect x="248.36" y="377.22" width="1.6" height="1.6" fill="#111"/>
<rect x="261.88" y="377.22" width="1.6" height="1.6" fill="#111"/>
<rect x="275.38" y="377.22" width="1.6" height="1.6" fill="#111"/>
<rect x="288.89" y="377.22" width="1.6" height="1.6" fill="#111"/>
<rect x="302.40" y="377.22" width="1.6" height="1.6" fill="#111"/>
<rect x="315.91" y="377.22" width="1.6" height="1.6" fill="#111"/>
<rect x="329.42" y="377.22" width="1.6" height="1.6" fill="#111"/>
<rect x="59.23" y="390.53" width="1.6" height="1.6" fill="#111"/>
<rect x="72.73" y="390.53" width="1.6" height="1.6" fill="#111"/>
<rect x="86.24" y="390.53" width="1.6" height="1.6" fill="#111"/>
<rect x="99.75" y="390.53" width="1.6" height="1.6" fill="#111"/>
<rect x="113.27" y="390.53" width="1.6" height="1.6" fill="#111"/>
<rect x="126.77" y="390.53" width="1.6" height="1.6" fill="#111"/>
<rect x="140.28" y="390.53" width="1.6" height="1.6" fill="#111"/>
<rect x="153.79" y="390.53" width="1.6" height="1.6" fill="#111"/>
<rect x="167.30" y="390.53" width="1.6" height="1.6" fill="#111"/>
<rect x="194.32" y="390.53" width="1.6" height="1.6" fill="#111"/>
<rect x="207.83" y="390.53" width="1.6" height="1.6" fill="#111"/>
<rect x="234.85" y="390.53" width="1.6" height="1.6" fill="#111"/>
<rect x="261.88" y="390.53" width="1.6" height="1.6" fill="#111"/>
<rect x="275.38" y="390.53" width="1.6" height="1.6" fill="#111"/>
<rect x="288.89" y="390.53" width="1.6" height="1.6" fill="#111"/>
<rect x="302.40" y="390.53" width="1.6" height="1.6" fill="#111"/>
<rect x="315.91" y="390.53" width="1.6" height="1.6" fill="#111"/>
<rect x="329.42" y="390.53" width="1.6" height="1.6" fill="#111"/>
<rect x="45.72" y="403.85" width="1.6" height="1.6" fill="#111"/>
<rect x="59.23" y="403.85" width="1.6" height="1.6" fill="#111"/>
<rect x="72.73" y="403.85" width="1.6" height="1.6" fill="#111"/>
<rect x="86.24" y="403.85" width="1.6" height="1.6" fill="#111"/>
<rect x="99.75" y="403.85" width="1.6" height="1.6" fill="#111"/>
<rect x="113.27" y="403.85" width="1.6" height="1.6" fill="#111"/>
<rect x="126.77" y="403.85" width="1.6" height="1.6" fill="#111"/>
<rect x="140.28" y="403.85" width="1.6" height="1.6" fill="#111"/>
<rect x="153.79" y="403.85" width="1.6" height="1.6" fill="#111"/>
<rect x="167.30" y="403.85" width="1.6" height="1.6" fill="#111"/>
<rect x="180.81" y="403.85" width="1.6" height="1.6" fill="#111"/>
<rect x="194.32" y="403.85" width="1.6" height="1.6" fill="#111"/>
<rect x="234.85" y="403.85" width="1.6" height="1.6" fill="#111"/>
<rect x="261.88" y="403.85" width="1.6" height="1.6" fill="#111"/>
<rect x="275.38" y="403.85" width="1.6" height="1.6" fill="#111"/>
<rect x="288.89" y="403.85" width="1.6" height="1.6" fill="#111"/>
<rect x="302.40" y="403.85" width="1.6" height="1.6" fill="#111"/>
<rect x="315.91" y="403.85" width="1.6" height="1.6" fill="#111"/>
<rect x="329.42" y="403.85" width="1.6" height="1.6" fill="#111"/>
<rect x="45.72" y="417.16" width="1.6" height="1.6" fill="#111"/>
<rect x="59.23" y="417.16" width="1.6" height="1.6" fill="#111"/>
<rect x="72.73" y="417.16" width="1.6" height="1.6" fill="#111"/>
<rect x="86.24" y="417.16" width="1.6" height="1.6" fill="#111"/>
<rect x="99.75" y="417.16" width="1.6" height="1.6" fill="#111"/>
<rect x="113.27" y="417.16" width="1.6" height="1.6" fill="#111"/>
<rect x="126.77" y="417.16" width="1.6" height="1.6" fill="#111"/>
<rect x="140.28" y="417.16" width="1.6" height="1.6" fill="#111"/>
<rect x="153.79" y="417.16" width="1.6" height="1.6" fill="#111"/>
<rect x="167.30" y="417.16" width="1.6" height="1.6" fill="#111"/>
<rect x="180.81" y="417.16" width="1.6" height="1.6" fill="#111"/>
<rect x="194.32" y="417.16" width="1.6" height="1.6" fill="#111"/>
<rect x="207.83" y="417.16" width="1.6" height="1.6" fill="#111"/>
<rect x="221.34" y="417.16" width="1.6" height="1.6" fill="#111"/>
<rect x="234.85" y="417.16" width="1.6" height="1.6" fill="#111"/>
<rect x="288.89" y="417.16" width="1.6" height="1.6" fill="#111"/>
<rect x="302.40" y="417.16" width="1.6" height="1.6" fill="#111"/>
<rect x="19.3" y="75.73" width="1.5" height="346.39" fill="#303030"/>
<text class="s" transform="translate(15.2,248.8) rotate(-90)" font-size="8.2" text-anchor="middle" fill="#141414">Off-target sequence</text>
<text class="s" x="366.8" y="58.96" font-size="8.5" font-weight="bold" text-anchor="middle" fill="#111">Reads</text>
<text class="s" x="366.8" y="72.27" font-size="8.7" text-anchor="middle" fill="#141414">135064</text>
<text class="s" x="406.3" y="72.27" font-size="8.3" text-anchor="end" fill="#141414">ON</text>
<text class="s" x="366.8" y="85.59" font-size="8.7" text-anchor="middle" fill="#141414">40774</text>
<text class="s" x="406.3" y="85.59" font-size="8.3" text-anchor="end" fill="#141414">OT01</text>
<text class="s" x="366.8" y="98.90" font-size="8.7" text-anchor="middle" fill="#141414">38064</text>
<text class="s" x="406.3" y="98.90" font-size="8.3" text-anchor="end" fill="#141414">OT02</text>
<text class="s" x="366.8" y="112.22" font-size="8.7" text-anchor="middle" fill="#141414">33794</text>
<text class="s" x="406.3" y="112.22" font-size="8.3" text-anchor="end" fill="#141414">OT03</text>
<text class="s" x="366.8" y="125.53" font-size="8.7" text-anchor="middle" fill="#141414">31632</text>
<text class="s" x="406.3" y="125.53" font-size="8.3" text-anchor="end" fill="#141414">OT04</text>
<text class="s" x="366.8" y="138.85" font-size="8.7" text-anchor="middle" fill="#141414">20294</text>
<text class="s" x="406.3" y="138.85" font-size="8.3" text-anchor="end" fill="#141414">OT05</text>
<text class="s" x="366.8" y="152.16" font-size="8.7" text-anchor="middle" fill="#141414">16486</text>
<text class="s" x="406.3" y="152.16" font-size="8.3" text-anchor="end" fill="#141414">OT06</text>
<text class="s" x="366.8" y="165.48" font-size="8.7" text-anchor="middle" fill="#141414">15968</text>
<text class="s" x="406.3" y="165.48" font-size="8.3" text-anchor="end" fill="#141414">OT07</text>
<text class="s" x="366.8" y="178.79" font-size="8.7" text-anchor="middle" fill="#141414">15150</text>
<text class="s" x="406.3" y="178.79" font-size="8.3" text-anchor="end" fill="#141414">OT08</text>
<text class="s" x="366.8" y="192.11" font-size="8.7" text-anchor="middle" fill="#141414">14782</text>
<text class="s" x="406.3" y="192.11" font-size="8.3" text-anchor="end" fill="#141414">OT09</text>
<text class="s" x="366.8" y="205.42" font-size="8.7" text-anchor="middle" fill="#141414">12642</text>
<text class="s" x="406.3" y="205.42" font-size="8.3" text-anchor="end" fill="#141414">OT10</text>
<text class="s" x="366.8" y="218.74" font-size="8.7" text-anchor="middle" fill="#141414">11882</text>
<text class="s" x="406.3" y="218.74" font-size="8.3" text-anchor="end" fill="#141414">OT11</text>
<text class="s" x="366.8" y="232.05" font-size="8.7" text-anchor="middle" fill="#141414">11638</text>
<text class="s" x="406.3" y="232.05" font-size="8.3" text-anchor="end" fill="#141414">OT12</text>
<text class="s" x="366.8" y="245.37" font-size="8.7" text-anchor="middle" fill="#141414">11500</text>
<text class="s" x="406.3" y="245.37" font-size="8.3" text-anchor="end" fill="#141414">OT13</text>
<text class="s" x="366.8" y="258.68" font-size="8.7" text-anchor="middle" fill="#141414">10618</text>
<text class="s" x="406.3" y="258.68" font-size="8.3" text-anchor="end" fill="#141414">OT14</text>
<text class="s" x="366.8" y="272.00" font-size="8.7" text-anchor="middle" fill="#141414">10058</text>
<text class="s" x="406.3" y="272.00" font-size="8.3" text-anchor="end" fill="#141414">OT15</text>
<text class="s" x="366.8" y="285.31" font-size="8.7" text-anchor="middle" fill="#141414">10044</text>
<text class="s" x="406.3" y="285.31" font-size="8.3" text-anchor="end" fill="#141414">OT16</text>
<text class="s" x="366.8" y="298.63" font-size="8.7" text-anchor="middle" fill="#141414">10018</text>
<text class="s" x="406.3" y="298.63" font-size="8.3" text-anchor="end" fill="#141414">OT17</text>
<text class="s" x="366.8" y="311.94" font-size="8.7" text-anchor="middle" fill="#141414">10000</text>
<text class="s" x="406.3" y="311.94" font-size="8.3" text-anchor="end" fill="#141414">OT18</text>
<text class="s" x="366.8" y="325.26" font-size="8.7" text-anchor="middle" fill="#141414">9478</text>
<text class="s" x="406.3" y="325.26" font-size="8.3" text-anchor="end" fill="#141414">OT19</text>
<text class="s" x="366.8" y="338.57" font-size="8.7" text-anchor="middle" fill="#141414">8774</text>
<text class="s" x="406.3" y="338.57" font-size="8.3" text-anchor="end" fill="#141414">OT20</text>
<text class="s" x="366.8" y="351.89" font-size="8.7" text-anchor="middle" fill="#141414">7806</text>
<text class="s" x="406.3" y="351.89" font-size="8.3" text-anchor="end" fill="#141414">OT21</text>
<text class="s" x="366.8" y="365.20" font-size="8.7" text-anchor="middle" fill="#141414">7648</text>
<text class="s" x="406.3" y="365.20" font-size="8.3" text-anchor="end" fill="#141414">OT22</text>
<text class="s" x="366.8" y="378.52" font-size="8.7" text-anchor="middle" fill="#141414">7366</text>
<text class="s" x="406.3" y="378.52" font-size="8.3" text-anchor="end" fill="#141414">OT23</text>
<text class="s" x="366.8" y="391.83" font-size="8.7" text-anchor="middle" fill="#141414">5958</text>
<text class="s" x="406.3" y="391.83" font-size="8.3" text-anchor="end" fill="#141414">OT24</text>
<text class="s" x="366.8" y="405.15" font-size="8.7" text-anchor="middle" fill="#141414">5318</text>
<text class="s" x="406.3" y="405.15" font-size="8.3" text-anchor="end" fill="#141414">OT25</text>
<text class="s" x="366.8" y="418.46" font-size="8.7" text-anchor="middle" fill="#141414">4584</text>
<text class="s" x="406.3" y="418.46" font-size="8.3" text-anchor="end" fill="#141414">OT26</text>
<rect x="412.40" y="59.2" width="1.3" height="365.50" fill="#222"/>
<rect x="412.40" y="59.2" width="98.50" height="1.2" fill="#222"/>
<rect x="412.50" y="56.6" width="1" height="3" fill="#222"/>
<rect x="416.76" y="57.8" width="0.8" height="1.8" fill="#333"/>
<rect x="419.20" y="57.8" width="0.8" height="1.8" fill="#333"/>
<rect x="420.93" y="57.8" width="0.8" height="1.8" fill="#333"/>
<rect x="422.27" y="57.8" width="0.8" height="1.8" fill="#333"/>
<rect x="423.36" y="57.8" width="0.8" height="1.8" fill="#333"/>
<rect x="424.29" y="57.8" width="0.8" height="1.8" fill="#333"/>
<rect x="425.09" y="57.8" width="0.8" height="1.8" fill="#333"/>
<rect x="425.80" y="57.8" width="0.8" height="1.8" fill="#333"/>
<rect x="426.33" y="56.6" width="1" height="3" fill="#222"/>
<rect x="430.59" y="57.8" width="0.8" height="1.8" fill="#333"/>
<rect x="433.03" y="57.8" width="0.8" height="1.8" fill="#333"/>
<rect x="434.76" y="57.8" width="0.8" height="1.8" fill="#333"/>
<rect x="436.10" y="57.8" width="0.8" height="1.8" fill="#333"/>
<rect x="437.19" y="57.8" width="0.8" height="1.8" fill="#333"/>
<rect x="438.12" y="57.8" width="0.8" height="1.8" fill="#333"/>
<rect x="438.92" y="57.8" width="0.8" height="1.8" fill="#333"/>
<rect x="439.63" y="57.8" width="0.8" height="1.8" fill="#333"/>
<rect x="440.16" y="56.6" width="1" height="3" fill="#222"/>
<rect x="444.42" y="57.8" width="0.8" height="1.8" fill="#333"/>
<rect x="446.86" y="57.8" width="0.8" height="1.8" fill="#333"/>
<rect x="448.59" y="57.8" width="0.8" height="1.8" fill="#333"/>
<rect x="449.93" y="57.8" width="0.8" height="1.8" fill="#333"/>
<rect x="451.02" y="57.8" width="0.8" height="1.8" fill="#333"/>
<rect x="451.95" y="57.8" width="0.8" height="1.8" fill="#333"/>
<rect x="452.75" y="57.8" width="0.8" height="1.8" fill="#333"/>
<rect x="453.46" y="57.8" width="0.8" height="1.8" fill="#333"/>
<rect x="453.99" y="56.6" width="1" height="3" fill="#222"/>
<rect x="458.25" y="57.8" width="0.8" height="1.8" fill="#333"/>
<rect x="460.69" y="57.8" width="0.8" height="1.8" fill="#333"/>
<rect x="462.42" y="57.8" width="0.8" height="1.8" fill="#333"/>
<rect x="463.76" y="57.8" width="0.8" height="1.8" fill="#333"/>
<rect x="464.85" y="57.8" width="0.8" height="1.8" fill="#333"/>
<rect x="465.78" y="57.8" width="0.8" height="1.8" fill="#333"/>
<rect x="466.58" y="57.8" width="0.8" height="1.8" fill="#333"/>
<rect x="467.29" y="57.8" width="0.8" height="1.8" fill="#333"/>
<rect x="467.82" y="56.6" width="1" height="3" fill="#222"/>
<rect x="472.08" y="57.8" width="0.8" height="1.8" fill="#333"/>
<rect x="474.52" y="57.8" width="0.8" height="1.8" fill="#333"/>
<rect x="476.25" y="57.8" width="0.8" height="1.8" fill="#333"/>
<rect x="477.59" y="57.8" width="0.8" height="1.8" fill="#333"/>
<rect x="478.68" y="57.8" width="0.8" height="1.8" fill="#333"/>
<rect x="479.61" y="57.8" width="0.8" height="1.8" fill="#333"/>
<rect x="480.41" y="57.8" width="0.8" height="1.8" fill="#333"/>
<rect x="481.12" y="57.8" width="0.8" height="1.8" fill="#333"/>
<rect x="481.65" y="56.6" width="1" height="3" fill="#222"/>
<rect x="485.91" y="57.8" width="0.8" height="1.8" fill="#333"/>
<rect x="488.35" y="57.8" width="0.8" height="1.8" fill="#333"/>
<rect x="490.08" y="57.8" width="0.8" height="1.8" fill="#333"/>
<rect x="491.42" y="57.8" width="0.8" height="1.8" fill="#333"/>
<rect x="492.51" y="57.8" width="0.8" height="1.8" fill="#333"/>
<rect x="493.44" y="57.8" width="0.8" height="1.8" fill="#333"/>
<rect x="494.24" y="57.8" width="0.8" height="1.8" fill="#333"/>
<rect x="494.95" y="57.8" width="0.8" height="1.8" fill="#333"/>
<rect x="495.48" y="56.6" width="1" height="3" fill="#222"/>
<rect x="499.74" y="57.8" width="0.8" height="1.8" fill="#333"/>
<rect x="502.18" y="57.8" width="0.8" height="1.8" fill="#333"/>
<rect x="503.91" y="57.8" width="0.8" height="1.8" fill="#333"/>
<rect x="505.25" y="57.8" width="0.8" height="1.8" fill="#333"/>
<rect x="506.34" y="57.8" width="0.8" height="1.8" fill="#333"/>
<rect x="507.27" y="57.8" width="0.8" height="1.8" fill="#333"/>
<rect x="508.07" y="57.8" width="0.8" height="1.8" fill="#333"/>
<rect x="508.78" y="57.8" width="0.8" height="1.8" fill="#333"/>
<rect x="509.31" y="56.6" width="1" height="3" fill="#222"/>
<text class="s" transform="translate(410.00,53.2) rotate(90) scale(0.88,1)" font-size="9.4" text-anchor="end" fill="#141414">0.00001</text>
<text class="s" transform="translate(423.60,53.2) rotate(90) scale(0.88,1)" font-size="9.4" text-anchor="end" fill="#141414">0.0001</text>
<text class="s" transform="translate(437.20,53.2) rotate(90) scale(0.88,1)" font-size="9.4" text-anchor="end" fill="#141414">0.001</text>
<text class="s" transform="translate(450.70,53.2) rotate(90) scale(0.88,1)" font-size="9.4" text-anchor="end" fill="#141414">0.01</text>
<text class="s" transform="translate(464.10,53.2) rotate(90) scale(0.88,1)" font-size="9.4" text-anchor="end" fill="#141414">0.1</text>
<text class="s" transform="translate(477.60,53.2) rotate(90) scale(0.88,1)" font-size="9.4" text-anchor="end" fill="#141414">1</text>
<text class="s" transform="translate(491.30,53.2) rotate(90) scale(0.88,1)" font-size="9.4" text-anchor="end" fill="#141414">10</text>
<text class="s" transform="translate(504.90,53.2) rotate(90) scale(0.88,1)" font-size="9.4" text-anchor="end" fill="#141414">100</text>
<text class="s" transform="translate(462,15.6) scale(0.74,1)" font-size="9.8" text-anchor="middle" fill="#141414" stroke="#1a1a1a" stroke-width="0.25">Indels (%)</text>
<rect x="409.7" y="68.27" width="3.4" height="1" fill="#222"/>
<rect x="409.7" y="81.59" width="3.4" height="1" fill="#222"/>
<rect x="409.7" y="94.90" width="3.4" height="1" fill="#222"/>
<rect x="409.7" y="108.22" width="3.4" height="1" fill="#222"/>
<rect x="409.7" y="121.53" width="3.4" height="1" fill="#222"/>
<rect x="409.7" y="134.85" width="3.4" height="1" fill="#222"/>
<rect x="409.7" y="148.16" width="3.4" height="1" fill="#222"/>
<rect x="409.7" y="161.48" width="3.4" height="1" fill="#222"/>
<rect x="409.7" y="174.79" width="3.4" height="1" fill="#222"/>
<rect x="409.7" y="188.11" width="3.4" height="1" fill="#222"/>
<rect x="409.7" y="201.42" width="3.4" height="1" fill="#222"/>
<rect x="409.7" y="214.74" width="3.4" height="1" fill="#222"/>
<rect x="409.7" y="228.05" width="3.4" height="1" fill="#222"/>
<rect x="409.7" y="241.37" width="3.4" height="1" fill="#222"/>
<rect x="409.7" y="254.68" width="3.4" height="1" fill="#222"/>
<rect x="409.7" y="268.00" width="3.4" height="1" fill="#222"/>
<rect x="409.7" y="281.31" width="3.4" height="1" fill="#222"/>
<rect x="409.7" y="294.63" width="3.4" height="1" fill="#222"/>
<rect x="409.7" y="307.94" width="3.4" height="1" fill="#222"/>
<rect x="409.7" y="321.26" width="3.4" height="1" fill="#222"/>
<rect x="409.7" y="334.57" width="3.4" height="1" fill="#222"/>
<rect x="409.7" y="347.89" width="3.4" height="1" fill="#222"/>
<rect x="409.7" y="361.20" width="3.4" height="1" fill="#222"/>
<rect x="409.7" y="374.52" width="3.4" height="1" fill="#222"/>
<rect x="409.7" y="387.83" width="3.4" height="1" fill="#222"/>
<rect x="409.7" y="401.15" width="3.4" height="1" fill="#222"/>
<rect x="409.7" y="414.46" width="3.4" height="1" fill="#222"/>
<circle cx="478.90" cy="68.77" r="3.7" fill="none" stroke="#b3123c" stroke-width="1.3"/>
<rect x="502.20" y="65.27" width="7" height="7" fill="#284b8a"/>
<rect x="440.50" y="82.00" width="2.50" height="1.1" fill="#2a2a2a"/>
<rect x="439.90" y="80.50" width="1.2" height="4.1" fill="#2a2a2a"/>
<circle cx="443.00" cy="82.09" r="3.7" fill="none" stroke="#b3123c" stroke-width="1.3"/>
<rect x="442.70" y="78.59" width="7" height="7" fill="#284b8a"/>
<rect x="442.70" y="95.00" width="4.30" height="1.1" fill="#2a2a2a"/>
<rect x="442.10" y="93.50" width="1.2" height="4.1" fill="#2a2a2a"/>
<circle cx="447.40" cy="95.40" r="3.7" fill="none" stroke="#b3123c" stroke-width="1.3"/>
<rect x="445.80" y="91.90" width="7" height="7" fill="#284b8a"/>
<circle cx="466.40" cy="108.72" r="3.7" fill="none" stroke="#b3123c" stroke-width="1.3"/>
<rect x="463.10" y="105.22" width="7" height="7" fill="#284b8a"/>
<rect x="436.40" y="122.00" width="5.60" height="1.1" fill="#2a2a2a"/>
<rect x="435.80" y="120.50" width="1.2" height="4.1" fill="#2a2a2a"/>
<circle cx="442.20" cy="122.03" r="3.7" fill="none" stroke="#b3123c" stroke-width="1.3"/>
<rect x="442.00" y="118.53" width="7" height="7" fill="#284b8a"/>
<rect x="438.50" y="135.00" width="2.50" height="1.1" fill="#2a2a2a"/>
<rect x="437.90" y="133.50" width="1.2" height="4.1" fill="#2a2a2a"/>
<circle cx="440.70" cy="135.35" r="3.7" fill="none" stroke="#b3123c" stroke-width="1.3"/>
<rect x="439.60" y="131.85" width="7" height="7" fill="#284b8a"/>
<rect x="426.10" y="148.00" width="18.90" height="1.1" fill="#2a2a2a"/>
<rect x="425.50" y="146.50" width="1.2" height="4.1" fill="#2a2a2a"/>
<rect x="448.00" y="148.00" width="6.60" height="1.1" fill="#2a2a2a"/>
<rect x="454.00" y="146.50" width="1.2" height="4.1" fill="#2a2a2a"/>
<circle cx="451.70" cy="148.66" r="3.7" fill="none" stroke="#b3123c" stroke-width="1.3"/>
<rect x="441.90" y="145.16" width="7" height="7" fill="#284b8a"/>
<rect x="439.30" y="161.00" width="14.70" height="1.1" fill="#2a2a2a"/>
<rect x="438.70" y="159.50" width="1.2" height="4.1" fill="#2a2a2a"/>
<rect x="454.00" y="161.00" width="4.20" height="1.1" fill="#2a2a2a"/>
<rect x="457.60" y="159.50" width="1.2" height="4.1" fill="#2a2a2a"/>
<circle cx="439.70" cy="161.98" r="3.7" fill="none" stroke="#b3123c" stroke-width="1.3"/>
<rect x="450.80" y="158.48" width="7" height="7" fill="#284b8a"/>
<circle cx="446.50" cy="175.29" r="3.7" fill="none" stroke="#b3123c" stroke-width="1.3"/>
<rect x="445.80" y="171.79" width="7" height="7" fill="#284b8a"/>
<circle cx="447.60" cy="188.61" r="3.7" fill="none" stroke="#b3123c" stroke-width="1.3"/>
<rect x="446.00" y="185.11" width="7" height="7" fill="#284b8a"/>
<circle cx="446.80" cy="201.92" r="3.7" fill="none" stroke="#b3123c" stroke-width="1.3"/>
<rect x="441.30" y="198.42" width="7" height="7" fill="#284b8a"/>
<rect x="445.00" y="211.74" width="7" height="7" fill="#284b8a"/>
<circle cx="445.00" cy="228.55" r="3.7" fill="none" stroke="#b3123c" stroke-width="1.3"/>
<rect x="442.80" y="225.05" width="7" height="7" fill="#284b8a"/>
<rect x="444.00" y="241.00" width="7.00" height="1.1" fill="#2a2a2a"/>
<circle cx="446.00" cy="241.87" r="3.7" fill="none" stroke="#b3123c" stroke-width="1.3"/>
<rect x="447.50" y="238.37" width="7" height="7" fill="#284b8a"/>
<rect x="443.30" y="255.00" width="6.70" height="1.1" fill="#2a2a2a"/>
<rect x="442.70" y="253.50" width="1.2" height="4.1" fill="#2a2a2a"/>
<circle cx="451.70" cy="255.18" r="3.7" fill="none" stroke="#b3123c" stroke-width="1.3"/>
<rect x="446.80" y="251.68" width="7" height="7" fill="#284b8a"/>
<circle cx="450.60" cy="268.50" r="3.7" fill="none" stroke="#b3123c" stroke-width="1.3"/>
<rect x="446.90" y="265.00" width="7" height="7" fill="#284b8a"/>
<rect x="435.30" y="281.00" width="6.70" height="1.1" fill="#2a2a2a"/>
<rect x="434.70" y="279.50" width="1.2" height="4.1" fill="#2a2a2a"/>
<circle cx="441.80" cy="281.81" r="3.7" fill="none" stroke="#b3123c" stroke-width="1.3"/>
<rect x="438.90" y="278.31" width="7" height="7" fill="#284b8a"/>
<rect x="426.40" y="295.00" width="19.60" height="1.1" fill="#2a2a2a"/>
<rect x="425.80" y="293.50" width="1.2" height="4.1" fill="#2a2a2a"/>
<circle cx="440.90" cy="295.13" r="3.7" fill="none" stroke="#b3123c" stroke-width="1.3"/>
<rect x="445.10" y="291.63" width="7" height="7" fill="#284b8a"/>
<rect x="422.40" y="308.00" width="15.60" height="1.1" fill="#2a2a2a"/>
<rect x="421.80" y="306.50" width="1.2" height="4.1" fill="#2a2a2a"/>
<rect x="442.00" y="308.00" width="6.90" height="1.1" fill="#2a2a2a"/>
<rect x="448.30" y="306.50" width="1.2" height="4.1" fill="#2a2a2a"/>
<circle cx="445.80" cy="308.44" r="3.7" fill="none" stroke="#b3123c" stroke-width="1.3"/>
<rect x="435.10" y="304.94" width="7" height="7" fill="#284b8a"/>
<rect x="443.00" y="321.00" width="5.90" height="1.1" fill="#2a2a2a"/>
<rect x="448.30" y="319.50" width="1.2" height="4.1" fill="#2a2a2a"/>
<circle cx="446.70" cy="321.76" r="3.7" fill="none" stroke="#b3123c" stroke-width="1.3"/>
<rect x="436.90" y="318.26" width="7" height="7" fill="#284b8a"/>
<circle cx="452.50" cy="335.07" r="3.7" fill="none" stroke="#b3123c" stroke-width="1.3"/>
<rect x="447.40" y="331.57" width="7" height="7" fill="#284b8a"/>
<circle cx="441.50" cy="348.39" r="3.7" fill="none" stroke="#b3123c" stroke-width="1.3"/>
<rect x="438.00" y="344.89" width="7" height="7" fill="#284b8a"/>
<circle cx="442.90" cy="361.70" r="3.7" fill="none" stroke="#b3123c" stroke-width="1.3"/>
<rect x="439.40" y="358.20" width="7" height="7" fill="#284b8a"/>
<circle cx="461.00" cy="375.02" r="3.7" fill="none" stroke="#b3123c" stroke-width="1.3"/>
<rect x="457.50" y="371.52" width="7" height="7" fill="#284b8a"/>
<rect x="439.60" y="388.00" width="4.40" height="1.1" fill="#2a2a2a"/>
<rect x="439.00" y="386.50" width="1.2" height="4.1" fill="#2a2a2a"/>
<circle cx="443.70" cy="388.33" r="3.7" fill="none" stroke="#b3123c" stroke-width="1.3"/>
<rect x="445.00" y="384.83" width="7" height="7" fill="#284b8a"/>
<circle cx="460.70" cy="401.65" r="3.7" fill="none" stroke="#b3123c" stroke-width="1.3"/>
<rect x="460.90" y="398.15" width="7" height="7" fill="#284b8a"/>
<rect x="450.00" y="414.00" width="5.90" height="1.1" fill="#2a2a2a"/>
<rect x="455.30" y="412.50" width="1.2" height="4.1" fill="#2a2a2a"/>
<circle cx="454.00" cy="414.96" r="3.7" fill="none" stroke="#b3123c" stroke-width="1.3"/>
<rect x="444.00" y="411.46" width="7" height="7" fill="#284b8a"/>
<circle cx="485.9" cy="236.7" r="3.7" fill="none" stroke="#b3123c" stroke-width="1.3"/>
<text class="s" x="492.7" y="239.3" font-size="8.5" fill="#141414">C</text>
<rect x="482" y="245.2" width="7" height="7" fill="#284b8a"/>
<text class="s" x="492.7" y="251.2" font-size="8.3" fill="#141414">RNP</text>
<rect x="0.5" y="0.5" width="519" height="432" fill="none" stroke="#000" stroke-width="1"/>
</svg></body></html>
